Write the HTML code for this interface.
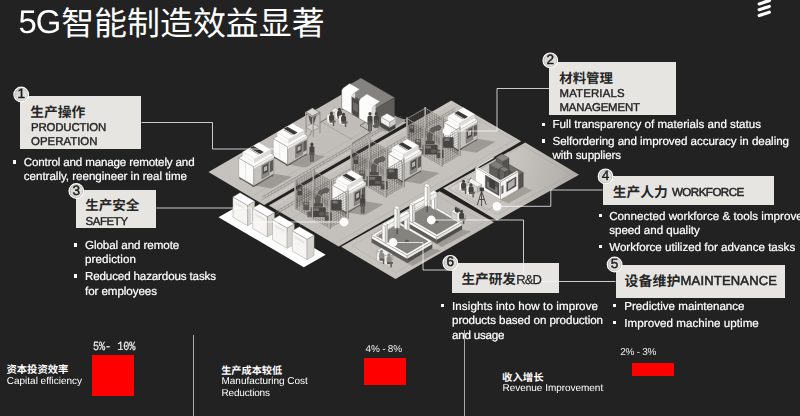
<!DOCTYPE html>
<html lang="zh"><head><meta charset="utf-8"><title>5G智能制造效益显著</title>
<style>
html,body{margin:0;padding:0;background:#222222;overflow:hidden;}
body{width:800px;height:416px;position:relative;overflow:hidden;font-family:"Liberation Sans",sans-serif;text-rendering:geometricPrecision;}
.t{position:absolute;white-space:pre;line-height:1;margin:0;}
.bx{position:absolute;background:#e7e5e1;}
.sq{position:absolute;width:3.2px;height:3.2px;background:#fff;}
.red{position:absolute;background:#ff0000;}
.vl{position:absolute;width:1px;background:#a9a9a9;}
svg{position:absolute;left:0;top:0;}
svg text{font-family:"Liberation Sans","Noto Sans CJK SC",sans-serif;}
</style></head><body>
<svg width="800" height="416" viewBox="0 0 800 416">
<defs><linearGradient id="f1" gradientUnits="userSpaceOnUse" x1="208" y1="0" x2="406" y2="0"><stop offset="0" stop-color="#c6c3be"/><stop offset="1" stop-color="#bebbb6"/></linearGradient><linearGradient id="f2" gradientUnits="userSpaceOnUse" x1="268" y1="0" x2="522" y2="0"><stop offset="0" stop-color="#c4c1bc"/><stop offset="1" stop-color="#c4c1bc"/></linearGradient><linearGradient id="f4" gradientUnits="userSpaceOnUse" x1="450" y1="160" x2="579" y2="185"><stop offset="0" stop-color="#d3d0cb"/><stop offset="0.5" stop-color="#c6c3be"/><stop offset="1" stop-color="#aeaba6"/></linearGradient><linearGradient id="f5" gradientUnits="userSpaceOnUse" x1="341" y1="0" x2="494" y2="0"><stop offset="0" stop-color="#c8c5c0"/><stop offset="1" stop-color="#bfbcb7"/></linearGradient></defs><polygon points="208.5,172.0 350.8,89.3 406.5,122.4 264.2,205.1" fill="url(#f1)"/><polygon points="268.8,205.6 451.3,100.4 521.2,141.3 338.7,246.5" fill="url(#f2)"/><polygon points="443.2,188.3 525.3,142.5 579.1,174.7 497.0,220.5" fill="url(#f4)"/><polygon points="341.2,246.8 439.5,191.2 494.0,222.3 395.5,279.0" fill="url(#f5)"/><line x1="270.5" y1="198.0" x2="402.8" y2="121.0" stroke="#dbd9d5" stroke-width="0.6"/><line x1="262.0" y1="199.7" x2="401.0" y2="119.0" stroke="#7d7b76" stroke-width="0.55"/><line x1="262.0" y1="197.0" x2="401.0" y2="116.3" stroke="#7d7b76" stroke-width="0.55"/><line x1="265.2" y1="197.8" x2="265.2" y2="195.1" stroke="#7d7b76" stroke-width="0.4"/><line x1="268.5" y1="195.9" x2="268.5" y2="193.2" stroke="#7d7b76" stroke-width="0.4"/><line x1="271.7" y1="194.1" x2="271.7" y2="191.4" stroke="#7d7b76" stroke-width="0.4"/><line x1="274.9" y1="192.2" x2="274.9" y2="189.5" stroke="#7d7b76" stroke-width="0.4"/><line x1="278.2" y1="190.3" x2="278.2" y2="187.6" stroke="#7d7b76" stroke-width="0.4"/><line x1="281.4" y1="188.4" x2="281.4" y2="185.7" stroke="#7d7b76" stroke-width="0.4"/><line x1="284.6" y1="186.6" x2="284.6" y2="183.9" stroke="#7d7b76" stroke-width="0.4"/><line x1="287.9" y1="184.7" x2="287.9" y2="182.0" stroke="#7d7b76" stroke-width="0.4"/><line x1="291.1" y1="182.8" x2="291.1" y2="180.1" stroke="#7d7b76" stroke-width="0.4"/><line x1="294.3" y1="180.9" x2="294.3" y2="178.2" stroke="#7d7b76" stroke-width="0.4"/><line x1="297.6" y1="179.1" x2="297.6" y2="176.4" stroke="#7d7b76" stroke-width="0.4"/><line x1="300.8" y1="177.2" x2="300.8" y2="174.5" stroke="#7d7b76" stroke-width="0.4"/><line x1="304.0" y1="175.3" x2="304.0" y2="172.6" stroke="#7d7b76" stroke-width="0.4"/><line x1="307.3" y1="173.4" x2="307.3" y2="170.7" stroke="#7d7b76" stroke-width="0.4"/><line x1="310.5" y1="171.5" x2="310.5" y2="168.8" stroke="#7d7b76" stroke-width="0.4"/><line x1="313.7" y1="169.7" x2="313.7" y2="167.0" stroke="#7d7b76" stroke-width="0.4"/><line x1="317.0" y1="167.8" x2="317.0" y2="165.1" stroke="#7d7b76" stroke-width="0.4"/><line x1="320.2" y1="165.9" x2="320.2" y2="163.2" stroke="#7d7b76" stroke-width="0.4"/><line x1="323.4" y1="164.0" x2="323.4" y2="161.3" stroke="#7d7b76" stroke-width="0.4"/><line x1="326.7" y1="162.2" x2="326.7" y2="159.5" stroke="#7d7b76" stroke-width="0.4"/><line x1="329.9" y1="160.3" x2="329.9" y2="157.6" stroke="#7d7b76" stroke-width="0.4"/><line x1="333.1" y1="158.4" x2="333.1" y2="155.7" stroke="#7d7b76" stroke-width="0.4"/><line x1="336.3" y1="156.5" x2="336.3" y2="153.8" stroke="#7d7b76" stroke-width="0.4"/><line x1="339.6" y1="154.7" x2="339.6" y2="152.0" stroke="#7d7b76" stroke-width="0.4"/><line x1="342.8" y1="152.8" x2="342.8" y2="150.1" stroke="#7d7b76" stroke-width="0.4"/><line x1="346.0" y1="150.9" x2="346.0" y2="148.2" stroke="#7d7b76" stroke-width="0.4"/><line x1="349.3" y1="149.0" x2="349.3" y2="146.3" stroke="#7d7b76" stroke-width="0.4"/><line x1="352.5" y1="147.2" x2="352.5" y2="144.5" stroke="#7d7b76" stroke-width="0.4"/><line x1="355.7" y1="145.3" x2="355.7" y2="142.6" stroke="#7d7b76" stroke-width="0.4"/><line x1="359.0" y1="143.4" x2="359.0" y2="140.7" stroke="#7d7b76" stroke-width="0.4"/><line x1="362.2" y1="141.5" x2="362.2" y2="138.8" stroke="#7d7b76" stroke-width="0.4"/><line x1="365.4" y1="139.6" x2="365.4" y2="136.9" stroke="#7d7b76" stroke-width="0.4"/><line x1="368.7" y1="137.8" x2="368.7" y2="135.1" stroke="#7d7b76" stroke-width="0.4"/><line x1="371.9" y1="135.9" x2="371.9" y2="133.2" stroke="#7d7b76" stroke-width="0.4"/><line x1="375.1" y1="134.0" x2="375.1" y2="131.3" stroke="#7d7b76" stroke-width="0.4"/><line x1="378.4" y1="132.1" x2="378.4" y2="129.4" stroke="#7d7b76" stroke-width="0.4"/><line x1="381.6" y1="130.3" x2="381.6" y2="127.6" stroke="#7d7b76" stroke-width="0.4"/><line x1="384.8" y1="128.4" x2="384.8" y2="125.7" stroke="#7d7b76" stroke-width="0.4"/><line x1="388.1" y1="126.5" x2="388.1" y2="123.8" stroke="#7d7b76" stroke-width="0.4"/><line x1="391.3" y1="124.6" x2="391.3" y2="121.9" stroke="#7d7b76" stroke-width="0.4"/><line x1="394.5" y1="122.8" x2="394.5" y2="120.1" stroke="#7d7b76" stroke-width="0.4"/><line x1="397.8" y1="120.9" x2="397.8" y2="118.2" stroke="#7d7b76" stroke-width="0.4"/><line x1="250.0" y1="197.5" x2="395.0" y2="113.2" stroke="#a9a7a2" stroke-width="0.4"/><line x1="272.0" y1="206.4" x2="452.0" y2="102.6" stroke="#dbd9d5" stroke-width="0.6"/><line x1="275.5" y1="211.9" x2="455.5" y2="107.8" stroke="#7d7b76" stroke-width="0.55"/><line x1="275.5" y1="214.5" x2="455.5" y2="110.4" stroke="#7d7b76" stroke-width="0.55"/><line x1="278.7" y1="210.0" x2="278.7" y2="212.6" stroke="#7d7b76" stroke-width="0.4"/><line x1="281.9" y1="208.2" x2="281.9" y2="210.8" stroke="#7d7b76" stroke-width="0.4"/><line x1="285.1" y1="206.3" x2="285.1" y2="208.9" stroke="#7d7b76" stroke-width="0.4"/><line x1="288.4" y1="204.5" x2="288.4" y2="207.1" stroke="#7d7b76" stroke-width="0.4"/><line x1="291.6" y1="202.6" x2="291.6" y2="205.2" stroke="#7d7b76" stroke-width="0.4"/><line x1="294.8" y1="200.7" x2="294.8" y2="203.3" stroke="#7d7b76" stroke-width="0.4"/><line x1="298.0" y1="198.9" x2="298.0" y2="201.5" stroke="#7d7b76" stroke-width="0.4"/><line x1="301.2" y1="197.0" x2="301.2" y2="199.6" stroke="#7d7b76" stroke-width="0.4"/><line x1="304.4" y1="195.2" x2="304.4" y2="197.8" stroke="#7d7b76" stroke-width="0.4"/><line x1="307.6" y1="193.3" x2="307.6" y2="195.9" stroke="#7d7b76" stroke-width="0.4"/><line x1="310.9" y1="191.5" x2="310.9" y2="194.1" stroke="#7d7b76" stroke-width="0.4"/><line x1="314.1" y1="189.6" x2="314.1" y2="192.2" stroke="#7d7b76" stroke-width="0.4"/><line x1="317.3" y1="187.7" x2="317.3" y2="190.3" stroke="#7d7b76" stroke-width="0.4"/><line x1="320.5" y1="185.9" x2="320.5" y2="188.5" stroke="#7d7b76" stroke-width="0.4"/><line x1="323.7" y1="184.0" x2="323.7" y2="186.6" stroke="#7d7b76" stroke-width="0.4"/><line x1="326.9" y1="182.2" x2="326.9" y2="184.8" stroke="#7d7b76" stroke-width="0.4"/><line x1="330.1" y1="180.3" x2="330.1" y2="182.9" stroke="#7d7b76" stroke-width="0.4"/><line x1="333.4" y1="178.4" x2="333.4" y2="181.0" stroke="#7d7b76" stroke-width="0.4"/><line x1="336.6" y1="176.6" x2="336.6" y2="179.2" stroke="#7d7b76" stroke-width="0.4"/><line x1="339.8" y1="174.7" x2="339.8" y2="177.3" stroke="#7d7b76" stroke-width="0.4"/><line x1="343.0" y1="172.9" x2="343.0" y2="175.5" stroke="#7d7b76" stroke-width="0.4"/><line x1="346.2" y1="171.0" x2="346.2" y2="173.6" stroke="#7d7b76" stroke-width="0.4"/><line x1="349.4" y1="169.1" x2="349.4" y2="171.7" stroke="#7d7b76" stroke-width="0.4"/><line x1="352.6" y1="167.3" x2="352.6" y2="169.9" stroke="#7d7b76" stroke-width="0.4"/><line x1="355.9" y1="165.4" x2="355.9" y2="168.0" stroke="#7d7b76" stroke-width="0.4"/><line x1="359.1" y1="163.6" x2="359.1" y2="166.2" stroke="#7d7b76" stroke-width="0.4"/><line x1="362.3" y1="161.7" x2="362.3" y2="164.3" stroke="#7d7b76" stroke-width="0.4"/><line x1="365.5" y1="159.8" x2="365.5" y2="162.4" stroke="#7d7b76" stroke-width="0.4"/><line x1="368.7" y1="158.0" x2="368.7" y2="160.6" stroke="#7d7b76" stroke-width="0.4"/><line x1="371.9" y1="156.1" x2="371.9" y2="158.7" stroke="#7d7b76" stroke-width="0.4"/><line x1="375.1" y1="154.3" x2="375.1" y2="156.9" stroke="#7d7b76" stroke-width="0.4"/><line x1="378.4" y1="152.4" x2="378.4" y2="155.0" stroke="#7d7b76" stroke-width="0.4"/><line x1="381.6" y1="150.6" x2="381.6" y2="153.2" stroke="#7d7b76" stroke-width="0.4"/><line x1="384.8" y1="148.7" x2="384.8" y2="151.3" stroke="#7d7b76" stroke-width="0.4"/><line x1="388.0" y1="146.8" x2="388.0" y2="149.4" stroke="#7d7b76" stroke-width="0.4"/><line x1="391.2" y1="145.0" x2="391.2" y2="147.6" stroke="#7d7b76" stroke-width="0.4"/><line x1="394.4" y1="143.1" x2="394.4" y2="145.7" stroke="#7d7b76" stroke-width="0.4"/><line x1="397.6" y1="141.3" x2="397.6" y2="143.9" stroke="#7d7b76" stroke-width="0.4"/><line x1="400.9" y1="139.4" x2="400.9" y2="142.0" stroke="#7d7b76" stroke-width="0.4"/><line x1="404.1" y1="137.5" x2="404.1" y2="140.1" stroke="#7d7b76" stroke-width="0.4"/><line x1="407.3" y1="135.7" x2="407.3" y2="138.3" stroke="#7d7b76" stroke-width="0.4"/><line x1="410.5" y1="133.8" x2="410.5" y2="136.4" stroke="#7d7b76" stroke-width="0.4"/><line x1="413.7" y1="132.0" x2="413.7" y2="134.6" stroke="#7d7b76" stroke-width="0.4"/><line x1="416.9" y1="130.1" x2="416.9" y2="132.7" stroke="#7d7b76" stroke-width="0.4"/><line x1="420.1" y1="128.2" x2="420.1" y2="130.8" stroke="#7d7b76" stroke-width="0.4"/><line x1="423.4" y1="126.4" x2="423.4" y2="129.0" stroke="#7d7b76" stroke-width="0.4"/><line x1="426.6" y1="124.5" x2="426.6" y2="127.1" stroke="#7d7b76" stroke-width="0.4"/><line x1="429.8" y1="122.7" x2="429.8" y2="125.3" stroke="#7d7b76" stroke-width="0.4"/><line x1="433.0" y1="120.8" x2="433.0" y2="123.4" stroke="#7d7b76" stroke-width="0.4"/><line x1="436.2" y1="119.0" x2="436.2" y2="121.6" stroke="#7d7b76" stroke-width="0.4"/><line x1="439.4" y1="117.1" x2="439.4" y2="119.7" stroke="#7d7b76" stroke-width="0.4"/><line x1="442.6" y1="115.2" x2="442.6" y2="117.8" stroke="#7d7b76" stroke-width="0.4"/><line x1="445.9" y1="113.4" x2="445.9" y2="116.0" stroke="#7d7b76" stroke-width="0.4"/><line x1="449.1" y1="111.5" x2="449.1" y2="114.1" stroke="#7d7b76" stroke-width="0.4"/><line x1="452.3" y1="109.7" x2="452.3" y2="112.3" stroke="#7d7b76" stroke-width="0.4"/><line x1="291.0" y1="218.6" x2="470.0" y2="115.3" stroke="#a9a7a2" stroke-width="0.4"/><polyline points="320.0,122.5 344.0,108.5 366.5,121.5 360.0,125.5 371.0,132.0 352.0,143.5" fill="none" stroke="#66645f" stroke-width="0.9"/><polyline points="321.0,121.5 352.0,139.5" fill="none" stroke="#8d8b86" stroke-width="0.5"/><polyline points="455.0,183.0 523.0,145.5 571.0,174.5 497.5,214.5 455.0,189.5" fill="none" stroke="#a09e99" stroke-width="0.4"/><polyline points="448.0,188.3 466.0,178.0 504.0,200.0 487.0,210.5 448.0,188.3" fill="none" stroke="#8f8d88" stroke-width="0.45"/><polyline points="300.0,225.0 480.0,121.0 515.0,141.0" fill="none" stroke="#a9a7a2" stroke-width="0.4"/><polyline points="334.0,244.0 517.0,138.5" fill="none" stroke="#a9a7a2" stroke-width="0.4"/><polyline points="352.0,245.5 438.5,196.0 484.0,222.0 396.0,272.5 352.0,245.5" fill="none" stroke="#a9a7a2" stroke-width="0.4"/><polygon points="218.5,217.2 240.4,204.7 325.7,254.7 303.8,267.2" fill="#ffffff"/><polygon points="232.9,217.2 247.6,225.7 247.6,205.4 232.9,196.9" fill="#f6f5f3" stroke="#8d8b86" stroke-width="0.4" stroke-linejoin="round"/><polygon points="247.6,225.7 254.7,221.6 254.7,201.3 247.6,205.4" fill="#d6d4d0" stroke="#8d8b86" stroke-width="0.4" stroke-linejoin="round"/><polygon points="232.9,196.9 247.6,205.4 254.7,201.3 240.0,192.8" fill="#ffffff" stroke="#8d8b86" stroke-width="0.4" stroke-linejoin="round"/><line x1="235.5" y1="202.7" x2="245.0" y2="208.2" stroke="#b5b3ae" stroke-width="0.4"/><line x1="235.5" y1="204.2" x2="245.0" y2="209.7" stroke="#d0cec9" stroke-width="0.4"/><polygon points="252.7,228.5 267.4,237.0 267.4,216.7 252.7,208.2" fill="#f6f5f3" stroke="#8d8b86" stroke-width="0.4" stroke-linejoin="round"/><polygon points="267.4,237.0 274.5,232.9 274.5,212.6 267.4,216.7" fill="#d6d4d0" stroke="#8d8b86" stroke-width="0.4" stroke-linejoin="round"/><polygon points="252.7,208.2 267.4,216.7 274.5,212.6 259.8,204.1" fill="#ffffff" stroke="#8d8b86" stroke-width="0.4" stroke-linejoin="round"/><line x1="255.3" y1="214.0" x2="264.8" y2="219.5" stroke="#b5b3ae" stroke-width="0.4"/><line x1="255.3" y1="215.5" x2="264.8" y2="221.0" stroke="#d0cec9" stroke-width="0.4"/><polygon points="272.5,239.8 287.2,248.3 287.2,228.0 272.5,219.5" fill="#f6f5f3" stroke="#8d8b86" stroke-width="0.4" stroke-linejoin="round"/><polygon points="287.2,248.3 294.3,244.2 294.3,223.9 287.2,228.0" fill="#d6d4d0" stroke="#8d8b86" stroke-width="0.4" stroke-linejoin="round"/><polygon points="272.5,219.5 287.2,228.0 294.3,223.9 279.6,215.4" fill="#ffffff" stroke="#8d8b86" stroke-width="0.4" stroke-linejoin="round"/><line x1="275.1" y1="225.3" x2="284.6" y2="230.8" stroke="#b5b3ae" stroke-width="0.4"/><line x1="275.1" y1="226.8" x2="284.6" y2="232.3" stroke="#d0cec9" stroke-width="0.4"/><polygon points="292.3,251.1 307.0,259.6 307.0,239.3 292.3,230.8" fill="#f6f5f3" stroke="#8d8b86" stroke-width="0.4" stroke-linejoin="round"/><polygon points="307.0,259.6 314.1,255.5 314.1,235.2 307.0,239.3" fill="#d6d4d0" stroke="#8d8b86" stroke-width="0.4" stroke-linejoin="round"/><polygon points="292.3,230.8 307.0,239.3 314.1,235.2 299.4,226.7" fill="#ffffff" stroke="#8d8b86" stroke-width="0.4" stroke-linejoin="round"/><line x1="294.9" y1="236.6" x2="304.4" y2="242.1" stroke="#b5b3ae" stroke-width="0.4"/><line x1="294.9" y1="238.1" x2="304.4" y2="243.6" stroke="#d0cec9" stroke-width="0.4"/><polygon points="375.6,127.8 385.6,131.8 406.6,119.8 394.6,116.8" fill="#9d9a95"/><polygon points="341.8,108.3 375.6,127.8 375.6,108.5 341.8,89.0" fill="#5b5955" stroke="#403f3d" stroke-width="0.4" stroke-linejoin="round"/><polygon points="375.6,127.8 394.6,116.8 394.6,97.5 375.6,108.5" fill="#5f5d59" stroke="#403f3d" stroke-width="0.4" stroke-linejoin="round"/><polygon points="341.8,89.0 375.6,108.5 394.6,97.5 360.9,78.0" fill="#85837f" stroke="#403f3d" stroke-width="0.4" stroke-linejoin="round"/><polygon points="341.8,108.3 351.8,114.0 351.8,96.2 353.3,93.8 359.6,89.2 349.6,83.5 343.3,88.0 341.8,90.5" fill="#fcfcfb" stroke="#8d8b86" stroke-width="0.35" stroke-linejoin="round"/><polygon points="351.8,114.0 355.2,112.0 355.2,92.8 351.8,95.2" fill="#dddbd7"/><polygon points="351.8,113.0 359.1,117.3 359.1,101.0 351.8,96.8" fill="#4a4947"/><polygon points="353.1,109.8 357.8,112.5 357.8,104.5 353.1,101.8" fill="#6d6b67"/><polygon points="359.1,118.3 372.1,125.8 372.1,108.5 373.6,106.0 379.9,101.5 366.9,94.0 360.6,98.5 359.1,101.0" fill="#fcfcfb" stroke="#8d8b86" stroke-width="0.35" stroke-linejoin="round"/><polygon points="372.1,125.8 375.6,123.8 375.6,105.0 372.1,107.5" fill="#dddbd7"/><polygon points="380.5,126.5 389.2,131.5 389.2,127.0 380.5,122.0" fill="#4a4947" stroke="#333" stroke-width="0.3" stroke-linejoin="round"/><polygon points="389.2,131.5 395.2,128.0 395.2,123.5 389.2,127.0" fill="#403f3d" stroke="#333" stroke-width="0.3" stroke-linejoin="round"/><polygon points="380.5,122.0 389.2,127.0 395.2,123.5 386.6,118.5" fill="#5d5b57" stroke="#333" stroke-width="0.3" stroke-linejoin="round"/><polygon points="381.0,122.5 389.7,127.5 389.7,122.0 381.0,117.0" fill="#f1f0ee" stroke="#8d8b86" stroke-width="0.35" stroke-linejoin="round"/><polygon points="389.7,127.5 395.7,124.0 395.7,118.5 389.7,122.0" fill="#cfcdc9" stroke="#8d8b86" stroke-width="0.35" stroke-linejoin="round"/><polygon points="381.0,117.0 389.7,122.0 395.7,118.5 387.1,113.5" fill="#fafaf9" stroke="#8d8b86" stroke-width="0.35" stroke-linejoin="round"/><line x1="312.4" y1="128.6" x2="312.4" y2="108.1" stroke="#9b9994" stroke-width="1.0"/><line x1="312.9" y1="128.6" x2="312.9" y2="108.1" stroke="#5d5b57" stroke-width="0.35"/><polygon points="305.6,127.0 312.7,131.1 319.5,127.2 312.4,123.1" fill="#d3d1cd" stroke="#5d5b57" stroke-width="0.35" stroke-linejoin="round"/><polygon points="308.2,113.0 312.7,115.6 316.9,113.2 314.3,122.2 311.4,124.3 309.9,121.0" fill="#55534f" stroke="#3a3937" stroke-width="0.3" stroke-linejoin="round"/><line x1="305.6" y1="132.9" x2="305.6" y2="112.0" stroke="#b9b7b2" stroke-width="1.2"/><line x1="306.2" y1="132.9" x2="306.2" y2="112.0" stroke="#5d5b57" stroke-width="0.4"/><line x1="319.5" y1="133.1" x2="319.5" y2="112.2" stroke="#b9b7b2" stroke-width="1.2"/><line x1="320.1" y1="133.1" x2="320.1" y2="112.2" stroke="#5d5b57" stroke-width="0.4"/><line x1="312.7" y1="137.0" x2="312.7" y2="116.1" stroke="#b9b7b2" stroke-width="1.2"/><line x1="313.4" y1="137.0" x2="313.4" y2="116.1" stroke="#5d5b57" stroke-width="0.4"/><polygon points="305.6,112.0 312.7,116.1 319.5,112.2 312.4,108.1" fill="#d9d7d3" stroke="#5d5b57" stroke-width="0.5" stroke-linejoin="round"/><polygon points="305.6,112.0 312.7,116.1 312.7,117.7 305.6,113.6" fill="#c4c2bd" stroke="#5d5b57" stroke-width="0.3" stroke-linejoin="round"/><polygon points="312.7,116.1 319.5,112.2 319.5,113.8 312.7,117.7" fill="#a9a7a2" stroke="#5d5b57" stroke-width="0.3" stroke-linejoin="round"/><path d="M311.7 130.6q-1 6-6 9l-6 4" stroke="#8d8b86" stroke-width="0.9" fill="none"/><polygon points="331.0,115.5 340.5,121.0 340.5,116.0 331.0,110.5" fill="#cfcdc9" stroke="#77756f" stroke-width="0.3" stroke-linejoin="round"/><polygon points="340.5,121.0 344.9,118.5 344.9,113.5 340.5,116.0" fill="#b9b7b2" stroke="#77756f" stroke-width="0.3" stroke-linejoin="round"/><polygon points="331.0,110.5 340.5,116.0 344.9,113.5 335.3,108.0" fill="#f2f1ef" stroke="#77756f" stroke-width="0.3" stroke-linejoin="round"/><path d="M326.9 115.0l3.4-1.6 0 7.2 4.2 2 -3.4 1.8 -4.2-2.2z" fill="#f1f0ee" stroke="#8d8b86" stroke-width="0.3"/><ellipse cx="331.5" cy="113.5" rx="1.6" ry="1.7" fill="#454441"/><rect x="329.1" y="115.1" width="5" height="6" rx="1.4" fill="#454441"/><path d="M329.5 120.5h6v1.8h-1.2v3.8h-1.4v-3.4h-3.4z" fill="#5d5b57"/><path d="M334.9 111.0l3.4-1.6 0 7.2 4.2 2 -3.4 1.8 -4.2-2.2z" fill="#f1f0ee" stroke="#8d8b86" stroke-width="0.3"/><ellipse cx="339.5" cy="109.5" rx="1.6" ry="1.7" fill="#454441"/><rect x="337.1" y="111.1" width="5" height="6" rx="1.4" fill="#454441"/><path d="M337.5 116.5h6v1.8h-1.2v3.8h-1.4v-3.4h-3.4z" fill="#5d5b57"/><path d="M338.9 116.0l3.4-1.6 0 7.2 4.2 2 -3.4 1.8 -4.2-2.2z" fill="#f1f0ee" stroke="#8d8b86" stroke-width="0.3"/><ellipse cx="343.5" cy="114.5" rx="1.6" ry="1.7" fill="#454441"/><rect x="341.1" y="116.1" width="5" height="6" rx="1.4" fill="#454441"/><path d="M341.5 121.5h6v1.8h-1.2v3.8h-1.4v-3.4h-3.4z" fill="#5d5b57"/><ellipse cx="370.0" cy="113.8" rx="1.6" ry="1.8" fill="#454441"/><path d="M367.5 117.0q0-1.6 2.5-1.6t2.5 1.6v7.4h-5z" fill="#454441"/><rect x="368.0" y="121.3" width="1.8" height="10.1" fill="#5d5b57"/><rect x="370.2" y="121.3" width="1.8" height="9.7" fill="#5d5b57"/><ellipse cx="376.3" cy="113.8" rx="1.6" ry="1.8" fill="#454441"/><path d="M373.8 117.0q0-1.6 2.5-1.6t2.5 1.6v6.1h-5z" fill="#454441"/><rect x="374.3" y="119.7" width="1.8" height="8.3" fill="#5d5b57"/><rect x="376.5" y="119.7" width="1.8" height="8.0" fill="#5d5b57"/><polygon points="287.7,164.4 305.7,167.4 325.2,156.2 307.2,153.2" fill="#9d9a95"/><line x1="274.9" y1="157.0" x2="274.9" y2="158.8" stroke="#55534f" stroke-width="0.8"/><line x1="286.5" y1="163.8" x2="286.5" y2="165.6" stroke="#55534f" stroke-width="0.8"/><line x1="290.3" y1="162.9" x2="290.3" y2="164.7" stroke="#55534f" stroke-width="0.8"/><line x1="305.7" y1="154.0" x2="305.7" y2="155.8" stroke="#55534f" stroke-width="0.8"/><polyline points="273.7,156.6 287.7,165.2 306.7,153.8" fill="none" stroke="#55534f" stroke-width="1.3"/><polygon points="273.2,156.0 287.7,164.4 287.7,146.9 273.2,138.5" fill="#fbfbfa" stroke="#7d7b76" stroke-width="0.4" stroke-linejoin="round"/><polygon points="287.7,164.4 307.2,153.2 307.2,135.7 287.7,146.9" fill="#c4c2bd" stroke="#7d7b76" stroke-width="0.4" stroke-linejoin="round"/><polygon points="273.2,138.5 287.7,146.9 307.2,135.7 292.7,127.2" fill="#fdfdfc" stroke="#7d7b76" stroke-width="0.4" stroke-linejoin="round"/><polygon points="277.1,136.2 288.7,143.0 288.7,139.2 277.1,132.4" fill="#fdfdfc" stroke="#c4c2bd" stroke-width="0.3" stroke-linejoin="round"/><polygon points="288.7,143.0 304.3,134.0 304.3,130.2 288.7,139.2" fill="#dedcd8" stroke="#c4c2bd" stroke-width="0.3" stroke-linejoin="round"/><polygon points="277.1,132.4 288.7,139.2 304.3,130.2 292.7,123.5" fill="#fdfdfc" stroke="#c4c2bd" stroke-width="0.3" stroke-linejoin="round"/><polygon points="287.7,146.9 307.2,135.7 307.2,137.8 287.7,149.1" fill="#eceae7"/><polygon points="295.5,158.2 302.6,154.1 302.6,141.8 295.5,145.9" fill="#8a8884" stroke="#4a4947" stroke-width="0.3" stroke-linejoin="round"/><polygon points="296.5,154.1 301.6,151.2 301.6,143.5 296.5,146.4" fill="#4a4947"/><polygon points="297.5,151.4 300.6,149.6 300.6,145.4 297.5,147.2" fill="#b5b3ae"/><polygon points="303.3,151.9 306.7,150.0 306.7,139.8 303.3,141.8" fill="#5d5b58"/><line x1="279.7" y1="158.8" x2="279.7" y2="143.3" stroke="#d0cec9" stroke-width="0.4"/><polygon points="283.8,128.8 287.4,126.7 297.6,132.6 294.0,134.7" fill="#3a3937"/><polygon points="283.3,130.1 284.3,129.5 293.3,134.7 292.3,135.3" fill="#a8a6a1"/><ellipse cx="311.9" cy="144.4" rx="1.6" ry="1.8" fill="#454441"/><path d="M309.4 147.6q0-1.6 2.5-1.6t2.5 1.6v7.4h-5z" fill="#454441"/><rect x="309.9" y="151.9" width="1.8" height="10.1" fill="#5d5b57"/><rect x="312.1" y="151.9" width="1.8" height="9.7" fill="#5d5b57"/><polygon points="253.8,185.5 271.8,188.5 291.9,176.8 273.9,173.8" fill="#9d9a95"/><line x1="240.4" y1="177.8" x2="240.4" y2="179.6" stroke="#55534f" stroke-width="0.8"/><line x1="252.6" y1="184.9" x2="252.6" y2="186.7" stroke="#55534f" stroke-width="0.8"/><line x1="256.4" y1="184.0" x2="256.4" y2="185.8" stroke="#55534f" stroke-width="0.8"/><line x1="272.4" y1="174.7" x2="272.4" y2="176.5" stroke="#55534f" stroke-width="0.8"/><polyline points="239.2,177.4 253.8,186.3 273.4,174.4" fill="none" stroke="#55534f" stroke-width="1.3"/><polygon points="238.7,176.8 253.8,185.5 253.8,166.7 238.7,158.0" fill="#fbfbfa" stroke="#7d7b76" stroke-width="0.4" stroke-linejoin="round"/><polygon points="253.8,185.5 273.9,173.8 273.9,155.0 253.8,166.7" fill="#c4c2bd" stroke="#7d7b76" stroke-width="0.4" stroke-linejoin="round"/><polygon points="238.7,158.0 253.8,166.7 273.9,155.0 258.9,146.3" fill="#fdfdfc" stroke="#7d7b76" stroke-width="0.4" stroke-linejoin="round"/><polygon points="242.7,155.7 254.8,162.6 254.8,158.8 242.7,151.9" fill="#fdfdfc" stroke="#c4c2bd" stroke-width="0.3" stroke-linejoin="round"/><polygon points="254.8,162.6 270.9,153.3 270.9,149.5 254.8,158.8" fill="#dedcd8" stroke="#c4c2bd" stroke-width="0.3" stroke-linejoin="round"/><polygon points="242.7,151.9 254.8,158.8 270.9,149.5 258.9,142.5" fill="#fdfdfc" stroke="#c4c2bd" stroke-width="0.3" stroke-linejoin="round"/><polygon points="253.8,166.7 273.9,155.0 273.9,157.2 253.8,168.9" fill="#eceae7"/><polygon points="261.8,179.0 269.1,174.8 269.1,161.6 261.8,165.8" fill="#8a8884" stroke="#4a4947" stroke-width="0.3" stroke-linejoin="round"/><polygon points="262.8,174.6 268.1,171.6 268.1,163.3 262.8,166.3" fill="#4a4947"/><polygon points="263.9,171.8 267.1,169.9 267.1,165.4 263.9,167.3" fill="#b5b3ae"/><polygon points="269.9,172.4 273.3,170.4 273.3,159.5 269.9,161.5" fill="#5d5b58"/><line x1="245.5" y1="179.7" x2="245.5" y2="162.9" stroke="#d0cec9" stroke-width="0.4"/><polygon points="249.7,148.0 253.3,145.9 263.8,152.0 260.2,154.1" fill="#3a3937"/><polygon points="249.1,149.3 250.2,148.7 259.5,154.1 258.5,154.7" fill="#a8a6a1"/><polygon points="407.1,146.2 425.3,135.7 425.3,108.2 407.1,118.7" fill="#5f5d59" fill-opacity="0.05"/><path d="M409.4 144.9v-27.5M411.6 143.6v-27.5M413.9 142.3v-27.5M416.2 140.9v-27.5M418.5 139.6v-27.5M420.7 138.3v-27.5M423.0 137.0v-27.5M407.1 143.7L425.3 133.2M407.1 141.2L425.3 130.7M407.1 138.7L425.3 128.2M407.1 136.2L425.3 125.7M407.1 133.7L425.3 123.2M407.1 131.2L425.3 120.7M407.1 128.7L425.3 118.2M407.1 126.2L425.3 115.7M407.1 123.7L425.3 113.2M407.1 121.2L425.3 110.7" stroke="#5b5955" stroke-width="0.42" stroke-opacity="0.85" fill="none"/><line x1="407.1" y1="118.7" x2="425.3" y2="108.2" stroke="#9b9994" stroke-width="0.9"/><line x1="407.1" y1="145.8" x2="425.3" y2="135.3" stroke="#8d8b86" stroke-width="0.6"/><line x1="407.1" y1="146.8" x2="407.1" y2="117.5" stroke="#b9b7b2" stroke-width="1.3"/><line x1="407.9" y1="146.8" x2="407.9" y2="117.5" stroke="#55534f" stroke-width="0.35"/><line x1="425.3" y1="136.3" x2="425.3" y2="107.0" stroke="#b9b7b2" stroke-width="1.3"/><line x1="426.0" y1="136.3" x2="426.0" y2="107.0" stroke="#55534f" stroke-width="0.35"/><polygon points="425.3,135.7 459.5,155.4 459.5,127.9 425.3,108.2" fill="#5f5d59" fill-opacity="0.05"/><path d="M427.6 137.0v-27.5M429.8 138.3v-27.5M432.1 139.6v-27.5M434.4 141.0v-27.5M436.7 142.3v-27.5M439.0 143.6v-27.5M441.3 144.9v-27.5M443.5 146.2v-27.5M445.8 147.5v-27.5M448.1 148.9v-27.5M450.4 150.2v-27.5M452.7 151.5v-27.5M454.9 152.8v-27.5M457.2 154.1v-27.5M425.3 133.2L459.5 152.9M425.3 130.7L459.5 150.4M425.3 128.2L459.5 147.9M425.3 125.7L459.5 145.4M425.3 123.2L459.5 142.9M425.3 120.7L459.5 140.4M425.3 118.2L459.5 137.9M425.3 115.7L459.5 135.4M425.3 113.2L459.5 132.9M425.3 110.7L459.5 130.4" stroke="#5b5955" stroke-width="0.42" stroke-opacity="0.85" fill="none"/><line x1="425.3" y1="108.2" x2="459.5" y2="127.9" stroke="#9b9994" stroke-width="0.9"/><line x1="425.3" y1="135.3" x2="459.5" y2="155.0" stroke="#8d8b86" stroke-width="0.6"/><line x1="425.3" y1="136.3" x2="425.3" y2="107.0" stroke="#b9b7b2" stroke-width="1.3"/><line x1="426.0" y1="136.3" x2="426.0" y2="107.0" stroke="#55534f" stroke-width="0.35"/><line x1="442.4" y1="146.2" x2="442.4" y2="116.9" stroke="#b9b7b2" stroke-width="1.3"/><line x1="443.1" y1="146.2" x2="443.1" y2="116.9" stroke="#55534f" stroke-width="0.35"/><line x1="459.5" y1="156.0" x2="459.5" y2="126.7" stroke="#b9b7b2" stroke-width="1.3"/><line x1="460.2" y1="156.0" x2="460.2" y2="126.7" stroke="#55534f" stroke-width="0.35"/><polygon points="458.4,149.7 476.4,152.7 495.4,141.7 477.4,138.7" fill="#9d9a95"/><line x1="445.8" y1="142.4" x2="445.8" y2="144.2" stroke="#55534f" stroke-width="0.8"/><line x1="457.2" y1="149.1" x2="457.2" y2="150.9" stroke="#55534f" stroke-width="0.8"/><line x1="461.0" y1="148.2" x2="461.0" y2="150.0" stroke="#55534f" stroke-width="0.8"/><line x1="475.9" y1="139.5" x2="475.9" y2="141.3" stroke="#55534f" stroke-width="0.8"/><polyline points="444.6,142.0 458.4,150.5 476.9,139.3" fill="none" stroke="#55534f" stroke-width="1.3"/><polygon points="444.1,141.4 458.4,149.7 458.4,130.7 444.1,122.4" fill="#fbfbfa" stroke="#7d7b76" stroke-width="0.4" stroke-linejoin="round"/><polygon points="458.4,149.7 477.4,138.7 477.4,119.7 458.4,130.7" fill="#c4c2bd" stroke="#7d7b76" stroke-width="0.4" stroke-linejoin="round"/><polygon points="444.1,122.4 458.4,130.7 477.4,119.7 463.2,111.4" fill="#fdfdfc" stroke="#7d7b76" stroke-width="0.4" stroke-linejoin="round"/><polygon points="447.9,120.2 459.3,126.8 459.3,123.0 447.9,116.4" fill="#fdfdfc" stroke="#c4c2bd" stroke-width="0.3" stroke-linejoin="round"/><polygon points="459.3,126.8 474.6,118.0 474.6,114.2 459.3,123.0" fill="#dedcd8" stroke="#c4c2bd" stroke-width="0.3" stroke-linejoin="round"/><polygon points="447.9,116.4 459.3,123.0 474.6,114.2 463.2,107.6" fill="#fdfdfc" stroke="#c4c2bd" stroke-width="0.3" stroke-linejoin="round"/><polygon points="458.4,130.7 477.4,119.7 477.4,121.9 458.4,132.9" fill="#eceae7"/><polygon points="466.0,143.4 472.9,139.4 472.9,126.1 466.0,130.1" fill="#8a8884" stroke="#4a4947" stroke-width="0.3" stroke-linejoin="round"/><polygon points="467.0,139.1 471.9,136.2 471.9,127.8 467.0,130.7" fill="#4a4947"/><polygon points="467.9,136.2 471.0,134.5 471.0,129.9 467.9,131.7" fill="#b5b3ae"/><polygon points="473.6,137.1 476.9,135.2 476.9,124.2 473.6,126.1" fill="#5d5b58"/><line x1="450.5" y1="144.2" x2="450.5" y2="127.2" stroke="#d0cec9" stroke-width="0.4"/><polygon points="454.4,113.0 458.1,110.9 468.1,116.7 464.4,118.8" fill="#3a3937"/><polygon points="453.9,114.3 455.0,113.7 463.8,118.8 462.8,119.4" fill="#a8a6a1"/><rect x="409.5" y="125.2" width="4.6" height="7.4" rx="0.7" fill="#454441"/><rect x="410.3" y="126.0" width="3.0" height="2.4" rx="0.3" fill="#8e8c87"/><path d="M427.1 141.7v-6l4-7.5 7.5-3.2 2.6 2-1.2 2.8-5.6 1.2-2.6 5.2v5.5z" fill="#605e5a" stroke="#3f3e3c" stroke-width="0.45"/><rect x="425.6" y="140.7" width="9.0" height="3.5" rx="0.7" fill="#4a4947"/><rect x="415.1" y="139.2" width="6.0" height="8.5" rx="0.7" fill="#5d5b57"/><rect x="416.1" y="140.0" width="4.0" height="2.2" rx="0.3" fill="#9b9994"/><rect x="422.6" y="144.7" width="15.0" height="9.7" rx="0.7" fill="#3f3e3c"/><rect x="424.1" y="145.8" width="7.0" height="2.6" rx="0.3" fill="#807e7a"/><rect x="431.1" y="149.6" width="5.0" height="3.2" rx="0.3" fill="#66645f"/><rect x="443.1" y="137.2" width="10.5" height="10.6" rx="0.7" fill="#403f3d"/><rect x="444.5" y="138.2" width="5.0" height="2.8" rx="0.3" fill="#8a8884"/><rect x="436.6" y="149.7" width="7.0" height="8.5" rx="0.7" fill="#4f4e4b"/><rect x="437.7" y="150.8" width="3.9" height="2.2" rx="0.3" fill="#8a8884"/><rect x="419.1" y="149.2" width="4.0" height="5.5" rx="0.7" fill="#66645f"/><polygon points="407.1,146.2 441.3,165.9 441.3,138.4 407.1,118.7" fill="#5f5d59" fill-opacity="0.04"/><path d="M409.4 147.5v-27.5M411.7 148.8v-27.5M413.9 150.1v-27.5M416.2 151.5v-27.5M418.5 152.8v-27.5M420.8 154.1v-27.5M423.1 155.4v-27.5M425.3 156.7v-27.5M427.6 158.0v-27.5M429.9 159.4v-27.5M432.2 160.7v-27.5M434.5 162.0v-27.5M436.7 163.3v-27.5M439.0 164.6v-27.5M407.1 143.7L441.3 163.4M407.1 141.2L441.3 160.9M407.1 138.7L441.3 158.4M407.1 136.2L441.3 155.9M407.1 133.7L441.3 153.4M407.1 131.2L441.3 150.9M407.1 128.7L441.3 148.4M407.1 126.2L441.3 145.9M407.1 123.7L441.3 143.4M407.1 121.2L441.3 140.9" stroke="#5b5955" stroke-width="0.42" stroke-opacity="0.85" fill="none"/><line x1="407.1" y1="118.7" x2="441.3" y2="138.4" stroke="#9b9994" stroke-width="0.9"/><line x1="407.1" y1="145.8" x2="441.3" y2="165.5" stroke="#8d8b86" stroke-width="0.6"/><line x1="407.1" y1="146.8" x2="407.1" y2="117.5" stroke="#b9b7b2" stroke-width="1.3"/><line x1="407.9" y1="146.8" x2="407.9" y2="117.5" stroke="#55534f" stroke-width="0.35"/><line x1="424.2" y1="156.7" x2="424.2" y2="127.4" stroke="#b9b7b2" stroke-width="1.3"/><line x1="425.0" y1="156.7" x2="425.0" y2="127.4" stroke="#55534f" stroke-width="0.35"/><line x1="441.3" y1="166.5" x2="441.3" y2="137.2" stroke="#b9b7b2" stroke-width="1.3"/><line x1="442.1" y1="166.5" x2="442.1" y2="137.2" stroke="#55534f" stroke-width="0.35"/><polygon points="441.3,165.9 459.5,155.4 459.5,127.9 441.3,138.4" fill="#5f5d59" fill-opacity="0.04"/><path d="M443.6 164.6v-27.5M445.9 163.3v-27.5M448.1 162.0v-27.5M450.4 160.7v-27.5M452.7 159.4v-27.5M454.9 158.1v-27.5M457.2 156.8v-27.5M441.3 163.4L459.5 152.9M441.3 160.9L459.5 150.4M441.3 158.4L459.5 147.9M441.3 155.9L459.5 145.4M441.3 153.4L459.5 142.9M441.3 150.9L459.5 140.4M441.3 148.4L459.5 137.9M441.3 145.9L459.5 135.4M441.3 143.4L459.5 132.9M441.3 140.9L459.5 130.4" stroke="#5b5955" stroke-width="0.42" stroke-opacity="0.85" fill="none"/><line x1="441.3" y1="138.4" x2="459.5" y2="127.9" stroke="#9b9994" stroke-width="0.9"/><line x1="441.3" y1="165.5" x2="459.5" y2="155.0" stroke="#8d8b86" stroke-width="0.6"/><line x1="441.3" y1="166.5" x2="441.3" y2="137.2" stroke="#b9b7b2" stroke-width="1.3"/><line x1="442.1" y1="166.5" x2="442.1" y2="137.2" stroke="#55534f" stroke-width="0.35"/><line x1="459.5" y1="156.0" x2="459.5" y2="126.7" stroke="#b9b7b2" stroke-width="1.3"/><line x1="460.2" y1="156.0" x2="460.2" y2="126.7" stroke="#55534f" stroke-width="0.35"/><polygon points="351.2,177.5 369.4,167.0 369.4,139.5 351.2,150.0" fill="#5f5d59" fill-opacity="0.05"/><path d="M353.5 176.2v-27.5M355.7 174.9v-27.5M358.0 173.6v-27.5M360.3 172.2v-27.5M362.6 170.9v-27.5M364.8 169.6v-27.5M367.1 168.3v-27.5M351.2 175.0L369.4 164.5M351.2 172.5L369.4 162.0M351.2 170.0L369.4 159.5M351.2 167.5L369.4 157.0M351.2 165.0L369.4 154.5M351.2 162.5L369.4 152.0M351.2 160.0L369.4 149.5M351.2 157.5L369.4 147.0M351.2 155.0L369.4 144.5M351.2 152.5L369.4 142.0" stroke="#5b5955" stroke-width="0.42" stroke-opacity="0.85" fill="none"/><line x1="351.2" y1="150.0" x2="369.4" y2="139.5" stroke="#9b9994" stroke-width="0.9"/><line x1="351.2" y1="177.1" x2="369.4" y2="166.6" stroke="#8d8b86" stroke-width="0.6"/><line x1="351.2" y1="178.1" x2="351.2" y2="148.8" stroke="#b9b7b2" stroke-width="1.3"/><line x1="351.9" y1="178.1" x2="351.9" y2="148.8" stroke="#55534f" stroke-width="0.35"/><line x1="369.4" y1="167.6" x2="369.4" y2="138.3" stroke="#b9b7b2" stroke-width="1.3"/><line x1="370.1" y1="167.6" x2="370.1" y2="138.3" stroke="#55534f" stroke-width="0.35"/><polygon points="369.4,167.0 403.6,186.8 403.6,159.2 369.4,139.5" fill="#5f5d59" fill-opacity="0.05"/><path d="M371.7 168.3v-27.5M373.9 169.6v-27.5M376.2 170.9v-27.5M378.5 172.3v-27.5M380.8 173.6v-27.5M383.1 174.9v-27.5M385.4 176.2v-27.5M387.6 177.5v-27.5M389.9 178.8v-27.5M392.2 180.2v-27.5M394.5 181.5v-27.5M396.8 182.8v-27.5M399.0 184.1v-27.5M401.3 185.4v-27.5M369.4 164.5L403.6 184.2M369.4 162.0L403.6 181.8M369.4 159.5L403.6 179.2M369.4 157.0L403.6 176.8M369.4 154.5L403.6 174.2M369.4 152.0L403.6 171.8M369.4 149.5L403.6 169.2M369.4 147.0L403.6 166.8M369.4 144.5L403.6 164.2M369.4 142.0L403.6 161.8" stroke="#5b5955" stroke-width="0.42" stroke-opacity="0.85" fill="none"/><line x1="369.4" y1="139.5" x2="403.6" y2="159.2" stroke="#9b9994" stroke-width="0.9"/><line x1="369.4" y1="166.6" x2="403.6" y2="186.3" stroke="#8d8b86" stroke-width="0.6"/><line x1="369.4" y1="167.6" x2="369.4" y2="138.3" stroke="#b9b7b2" stroke-width="1.3"/><line x1="370.1" y1="167.6" x2="370.1" y2="138.3" stroke="#55534f" stroke-width="0.35"/><line x1="386.5" y1="177.5" x2="386.5" y2="148.2" stroke="#b9b7b2" stroke-width="1.3"/><line x1="387.2" y1="177.5" x2="387.2" y2="148.2" stroke="#55534f" stroke-width="0.35"/><line x1="403.6" y1="187.3" x2="403.6" y2="158.1" stroke="#b9b7b2" stroke-width="1.3"/><line x1="404.3" y1="187.3" x2="404.3" y2="158.1" stroke="#55534f" stroke-width="0.35"/><polygon points="402.5,181.0 420.5,184.0 439.5,173.0 421.5,170.0" fill="#9d9a95"/><line x1="389.9" y1="173.8" x2="389.9" y2="175.6" stroke="#55534f" stroke-width="0.8"/><line x1="401.3" y1="180.4" x2="401.3" y2="182.2" stroke="#55534f" stroke-width="0.8"/><line x1="405.1" y1="179.5" x2="405.1" y2="181.3" stroke="#55534f" stroke-width="0.8"/><line x1="420.0" y1="170.8" x2="420.0" y2="172.6" stroke="#55534f" stroke-width="0.8"/><polyline points="388.7,173.3 402.5,181.8 421.0,170.6" fill="none" stroke="#55534f" stroke-width="1.3"/><polygon points="388.2,172.8 402.5,181.0 402.5,162.0 388.2,153.8" fill="#fbfbfa" stroke="#7d7b76" stroke-width="0.4" stroke-linejoin="round"/><polygon points="402.5,181.0 421.5,170.0 421.5,151.0 402.5,162.0" fill="#c4c2bd" stroke="#7d7b76" stroke-width="0.4" stroke-linejoin="round"/><polygon points="388.2,153.8 402.5,162.0 421.5,151.0 407.3,142.8" fill="#fdfdfc" stroke="#7d7b76" stroke-width="0.4" stroke-linejoin="round"/><polygon points="392.0,151.6 403.4,158.2 403.4,154.3 392.0,147.8" fill="#fdfdfc" stroke="#c4c2bd" stroke-width="0.3" stroke-linejoin="round"/><polygon points="403.4,158.2 418.7,149.3 418.7,145.5 403.4,154.3" fill="#dedcd8" stroke="#c4c2bd" stroke-width="0.3" stroke-linejoin="round"/><polygon points="392.0,147.8 403.4,154.3 418.7,145.5 407.3,138.9" fill="#fdfdfc" stroke="#c4c2bd" stroke-width="0.3" stroke-linejoin="round"/><polygon points="402.5,162.0 421.5,151.0 421.5,153.2 402.5,164.2" fill="#eceae7"/><polygon points="410.1,174.7 417.0,170.7 417.0,157.4 410.1,161.4" fill="#8a8884" stroke="#4a4947" stroke-width="0.3" stroke-linejoin="round"/><polygon points="411.1,170.4 416.0,167.5 416.0,159.1 411.1,162.0" fill="#4a4947"/><polygon points="412.0,167.5 415.1,165.8 415.1,161.2 412.0,163.0" fill="#b5b3ae"/><polygon points="417.7,168.4 421.0,166.5 421.0,155.5 417.7,157.4" fill="#5d5b58"/><line x1="394.6" y1="175.5" x2="394.6" y2="158.5" stroke="#d0cec9" stroke-width="0.4"/><polygon points="398.5,144.3 402.2,142.2 412.2,148.0 408.5,150.1" fill="#3a3937"/><polygon points="398.0,145.6 399.1,145.0 407.9,150.1 406.9,150.7" fill="#a8a6a1"/><rect x="353.6" y="156.5" width="4.6" height="7.4" rx="0.7" fill="#454441"/><rect x="354.4" y="157.3" width="3.0" height="2.4" rx="0.3" fill="#8e8c87"/><path d="M371.2 173.0v-6l4-7.5 7.5-3.2 2.6 2-1.2 2.8-5.6 1.2-2.6 5.2v5.5z" fill="#605e5a" stroke="#3f3e3c" stroke-width="0.45"/><rect x="369.7" y="172.0" width="9.0" height="3.5" rx="0.7" fill="#4a4947"/><rect x="359.2" y="170.5" width="6.0" height="8.5" rx="0.7" fill="#5d5b57"/><rect x="360.2" y="171.3" width="4.0" height="2.2" rx="0.3" fill="#9b9994"/><rect x="366.7" y="176.0" width="15.0" height="9.7" rx="0.7" fill="#3f3e3c"/><rect x="368.2" y="177.1" width="7.0" height="2.6" rx="0.3" fill="#807e7a"/><rect x="375.2" y="180.9" width="5.0" height="3.2" rx="0.3" fill="#66645f"/><rect x="387.2" y="168.5" width="10.5" height="10.6" rx="0.7" fill="#403f3d"/><rect x="388.6" y="169.5" width="5.0" height="2.8" rx="0.3" fill="#8a8884"/><rect x="380.7" y="181.0" width="7.0" height="8.5" rx="0.7" fill="#4f4e4b"/><rect x="381.8" y="182.1" width="3.9" height="2.2" rx="0.3" fill="#8a8884"/><rect x="363.2" y="180.5" width="4.0" height="5.5" rx="0.7" fill="#66645f"/><polygon points="351.2,177.5 385.4,197.2 385.4,169.8 351.2,150.0" fill="#5f5d59" fill-opacity="0.04"/><path d="M353.5 178.8v-27.5M355.8 180.1v-27.5M358.0 181.4v-27.5M360.3 182.8v-27.5M362.6 184.1v-27.5M364.9 185.4v-27.5M367.2 186.7v-27.5M369.4 188.0v-27.5M371.7 189.3v-27.5M374.0 190.7v-27.5M376.3 192.0v-27.5M378.6 193.3v-27.5M380.8 194.6v-27.5M383.1 195.9v-27.5M351.2 175.0L385.4 194.8M351.2 172.5L385.4 192.2M351.2 170.0L385.4 189.8M351.2 167.5L385.4 187.2M351.2 165.0L385.4 184.8M351.2 162.5L385.4 182.2M351.2 160.0L385.4 179.8M351.2 157.5L385.4 177.2M351.2 155.0L385.4 174.8M351.2 152.5L385.4 172.2" stroke="#5b5955" stroke-width="0.42" stroke-opacity="0.85" fill="none"/><line x1="351.2" y1="150.0" x2="385.4" y2="169.8" stroke="#9b9994" stroke-width="0.9"/><line x1="351.2" y1="177.1" x2="385.4" y2="196.8" stroke="#8d8b86" stroke-width="0.6"/><line x1="351.2" y1="178.1" x2="351.2" y2="148.8" stroke="#b9b7b2" stroke-width="1.3"/><line x1="351.9" y1="178.1" x2="351.9" y2="148.8" stroke="#55534f" stroke-width="0.35"/><line x1="368.3" y1="188.0" x2="368.3" y2="158.7" stroke="#b9b7b2" stroke-width="1.3"/><line x1="369.1" y1="188.0" x2="369.1" y2="158.7" stroke="#55534f" stroke-width="0.35"/><line x1="385.4" y1="197.8" x2="385.4" y2="168.6" stroke="#b9b7b2" stroke-width="1.3"/><line x1="386.2" y1="197.8" x2="386.2" y2="168.6" stroke="#55534f" stroke-width="0.35"/><polygon points="385.4,197.2 403.6,186.8 403.6,159.2 385.4,169.8" fill="#5f5d59" fill-opacity="0.04"/><path d="M387.7 195.9v-27.5M390.0 194.6v-27.5M392.2 193.3v-27.5M394.5 192.0v-27.5M396.8 190.7v-27.5M399.0 189.4v-27.5M401.3 188.1v-27.5M385.4 194.8L403.6 184.2M385.4 192.2L403.6 181.8M385.4 189.8L403.6 179.2M385.4 187.2L403.6 176.8M385.4 184.8L403.6 174.2M385.4 182.2L403.6 171.8M385.4 179.8L403.6 169.2M385.4 177.2L403.6 166.8M385.4 174.8L403.6 164.2M385.4 172.2L403.6 161.8" stroke="#5b5955" stroke-width="0.42" stroke-opacity="0.85" fill="none"/><line x1="385.4" y1="169.8" x2="403.6" y2="159.2" stroke="#9b9994" stroke-width="0.9"/><line x1="385.4" y1="196.8" x2="403.6" y2="186.3" stroke="#8d8b86" stroke-width="0.6"/><line x1="385.4" y1="197.8" x2="385.4" y2="168.6" stroke="#b9b7b2" stroke-width="1.3"/><line x1="386.2" y1="197.8" x2="386.2" y2="168.6" stroke="#55534f" stroke-width="0.35"/><line x1="403.6" y1="187.3" x2="403.6" y2="158.1" stroke="#b9b7b2" stroke-width="1.3"/><line x1="404.3" y1="187.3" x2="404.3" y2="158.1" stroke="#55534f" stroke-width="0.35"/><polygon points="295.2,208.8 313.4,198.2 313.4,170.8 295.2,181.2" fill="#5f5d59" fill-opacity="0.05"/><path d="M297.5 207.4v-27.5M299.8 206.1v-27.5M302.1 204.8v-27.5M304.3 203.5v-27.5M306.6 202.2v-27.5M308.9 200.9v-27.5M311.2 199.6v-27.5M295.2 206.2L313.4 195.8M295.2 203.8L313.4 193.2M295.2 201.2L313.4 190.8M295.2 198.8L313.4 188.2M295.2 196.2L313.4 185.8M295.2 193.8L313.4 183.2M295.2 191.2L313.4 180.8M295.2 188.8L313.4 178.2M295.2 186.2L313.4 175.8M295.2 183.8L313.4 173.2" stroke="#5b5955" stroke-width="0.42" stroke-opacity="0.85" fill="none"/><line x1="295.2" y1="181.2" x2="313.4" y2="170.8" stroke="#9b9994" stroke-width="0.9"/><line x1="295.2" y1="208.3" x2="313.4" y2="197.8" stroke="#8d8b86" stroke-width="0.6"/><line x1="295.2" y1="209.3" x2="295.2" y2="180.1" stroke="#b9b7b2" stroke-width="1.3"/><line x1="296.0" y1="209.3" x2="296.0" y2="180.1" stroke="#55534f" stroke-width="0.35"/><line x1="313.4" y1="198.8" x2="313.4" y2="169.6" stroke="#b9b7b2" stroke-width="1.3"/><line x1="314.2" y1="198.8" x2="314.2" y2="169.6" stroke="#55534f" stroke-width="0.35"/><polygon points="313.4,198.2 347.6,218.0 347.6,190.5 313.4,170.8" fill="#5f5d59" fill-opacity="0.05"/><path d="M315.7 199.6v-27.5M318.0 200.9v-27.5M320.3 202.2v-27.5M322.6 203.5v-27.5M324.8 204.8v-27.5M327.1 206.2v-27.5M329.4 207.5v-27.5M331.7 208.8v-27.5M334.0 210.1v-27.5M336.2 211.4v-27.5M338.5 212.7v-27.5M340.8 214.1v-27.5M343.1 215.4v-27.5M345.4 216.7v-27.5M313.4 195.8L347.6 215.5M313.4 193.2L347.6 213.0M313.4 190.8L347.6 210.5M313.4 188.2L347.6 208.0M313.4 185.8L347.6 205.5M313.4 183.2L347.6 203.0M313.4 180.8L347.6 200.5M313.4 178.2L347.6 198.0M313.4 175.8L347.6 195.5M313.4 173.2L347.6 193.0" stroke="#5b5955" stroke-width="0.42" stroke-opacity="0.85" fill="none"/><line x1="313.4" y1="170.8" x2="347.6" y2="190.5" stroke="#9b9994" stroke-width="0.9"/><line x1="313.4" y1="197.8" x2="347.6" y2="217.6" stroke="#8d8b86" stroke-width="0.6"/><line x1="313.4" y1="198.8" x2="313.4" y2="169.6" stroke="#b9b7b2" stroke-width="1.3"/><line x1="314.2" y1="198.8" x2="314.2" y2="169.6" stroke="#55534f" stroke-width="0.35"/><line x1="330.5" y1="208.7" x2="330.5" y2="179.4" stroke="#b9b7b2" stroke-width="1.3"/><line x1="331.3" y1="208.7" x2="331.3" y2="179.4" stroke="#55534f" stroke-width="0.35"/><line x1="347.6" y1="218.6" x2="347.6" y2="189.3" stroke="#b9b7b2" stroke-width="1.3"/><line x1="348.4" y1="218.6" x2="348.4" y2="189.3" stroke="#55534f" stroke-width="0.35"/><polygon points="346.5,212.2 364.5,215.2 383.6,204.2 365.6,201.2" fill="#9d9a95"/><line x1="334.0" y1="205.0" x2="334.0" y2="206.8" stroke="#55534f" stroke-width="0.8"/><line x1="345.3" y1="211.7" x2="345.3" y2="213.5" stroke="#55534f" stroke-width="0.8"/><line x1="349.1" y1="210.8" x2="349.1" y2="212.6" stroke="#55534f" stroke-width="0.8"/><line x1="364.1" y1="202.1" x2="364.1" y2="203.9" stroke="#55534f" stroke-width="0.8"/><polyline points="332.8,204.6 346.5,213.1 365.1,201.8" fill="none" stroke="#55534f" stroke-width="1.3"/><polygon points="332.2,204.0 346.5,212.2 346.5,193.2 332.2,185.0" fill="#fbfbfa" stroke="#7d7b76" stroke-width="0.4" stroke-linejoin="round"/><polygon points="346.5,212.2 365.6,201.2 365.6,182.2 346.5,193.2" fill="#c4c2bd" stroke="#7d7b76" stroke-width="0.4" stroke-linejoin="round"/><polygon points="332.2,185.0 346.5,193.2 365.6,182.2 351.3,174.0" fill="#fdfdfc" stroke="#7d7b76" stroke-width="0.4" stroke-linejoin="round"/><polygon points="336.1,182.8 347.5,189.4 347.5,185.6 336.1,179.0" fill="#fdfdfc" stroke="#c4c2bd" stroke-width="0.3" stroke-linejoin="round"/><polygon points="347.5,189.4 362.7,180.6 362.7,176.8 347.5,185.6" fill="#dedcd8" stroke="#c4c2bd" stroke-width="0.3" stroke-linejoin="round"/><polygon points="336.1,179.0 347.5,185.6 362.7,176.8 351.3,170.2" fill="#fdfdfc" stroke="#c4c2bd" stroke-width="0.3" stroke-linejoin="round"/><polygon points="346.5,193.2 365.6,182.2 365.6,184.4 346.5,195.4" fill="#eceae7"/><polygon points="354.2,205.9 361.0,202.0 361.0,188.7 354.2,192.7" fill="#8a8884" stroke="#4a4947" stroke-width="0.3" stroke-linejoin="round"/><polygon points="355.1,201.6 360.1,198.7 360.1,190.4 355.1,193.2" fill="#4a4947"/><polygon points="356.1,198.8 359.1,197.0 359.1,192.5 356.1,194.2" fill="#b5b3ae"/><polygon points="361.8,199.6 365.0,197.8 365.0,186.8 361.8,188.6" fill="#5d5b58"/><line x1="338.7" y1="206.7" x2="338.7" y2="189.7" stroke="#d0cec9" stroke-width="0.4"/><polygon points="342.6,175.5 346.2,173.4 356.2,179.2 352.6,181.3" fill="#3a3937"/><polygon points="342.1,176.8 343.1,176.2 352.0,181.4 350.9,182.0" fill="#a8a6a1"/><rect x="297.6" y="187.8" width="4.6" height="7.4" rx="0.7" fill="#454441"/><rect x="298.4" y="188.6" width="3.0" height="2.4" rx="0.3" fill="#8e8c87"/><path d="M315.2 204.2v-6l4-7.5 7.5-3.2 2.6 2-1.2 2.8-5.6 1.2-2.6 5.2v5.5z" fill="#605e5a" stroke="#3f3e3c" stroke-width="0.45"/><rect x="313.8" y="203.2" width="9.0" height="3.5" rx="0.7" fill="#4a4947"/><rect x="303.2" y="201.8" width="6.0" height="8.5" rx="0.7" fill="#5d5b57"/><rect x="304.2" y="202.6" width="4.0" height="2.2" rx="0.3" fill="#9b9994"/><rect x="310.8" y="207.2" width="15.0" height="9.7" rx="0.7" fill="#3f3e3c"/><rect x="312.2" y="208.3" width="7.0" height="2.6" rx="0.3" fill="#807e7a"/><rect x="319.2" y="212.2" width="5.0" height="3.2" rx="0.3" fill="#66645f"/><rect x="331.2" y="199.8" width="10.5" height="10.6" rx="0.7" fill="#403f3d"/><rect x="332.6" y="200.8" width="5.0" height="2.8" rx="0.3" fill="#8a8884"/><rect x="324.8" y="212.2" width="7.0" height="8.5" rx="0.7" fill="#4f4e4b"/><rect x="325.9" y="213.3" width="3.9" height="2.2" rx="0.3" fill="#8a8884"/><rect x="307.2" y="211.8" width="4.0" height="5.5" rx="0.7" fill="#66645f"/><polygon points="295.2,208.8 329.5,228.5 329.5,201.0 295.2,181.2" fill="#5f5d59" fill-opacity="0.04"/><path d="M297.5 210.1v-27.5M299.8 211.4v-27.5M302.1 212.7v-27.5M304.4 214.0v-27.5M306.7 215.3v-27.5M308.9 216.7v-27.5M311.2 218.0v-27.5M313.5 219.3v-27.5M315.8 220.6v-27.5M318.1 221.9v-27.5M320.3 223.2v-27.5M322.6 224.6v-27.5M324.9 225.9v-27.5M327.2 227.2v-27.5M295.2 206.2L329.5 226.0M295.2 203.8L329.5 223.5M295.2 201.2L329.5 221.0M295.2 198.8L329.5 218.5M295.2 196.2L329.5 216.0M295.2 193.8L329.5 213.5M295.2 191.2L329.5 211.0M295.2 188.8L329.5 208.5M295.2 186.2L329.5 206.0M295.2 183.8L329.5 203.5" stroke="#5b5955" stroke-width="0.42" stroke-opacity="0.85" fill="none"/><line x1="295.2" y1="181.2" x2="329.5" y2="201.0" stroke="#9b9994" stroke-width="0.9"/><line x1="295.2" y1="208.3" x2="329.5" y2="228.1" stroke="#8d8b86" stroke-width="0.6"/><line x1="295.2" y1="209.3" x2="295.2" y2="180.1" stroke="#b9b7b2" stroke-width="1.3"/><line x1="296.0" y1="209.3" x2="296.0" y2="180.1" stroke="#55534f" stroke-width="0.35"/><line x1="312.4" y1="219.2" x2="312.4" y2="189.9" stroke="#b9b7b2" stroke-width="1.3"/><line x1="313.1" y1="219.2" x2="313.1" y2="189.9" stroke="#55534f" stroke-width="0.35"/><line x1="329.5" y1="229.1" x2="329.5" y2="199.8" stroke="#b9b7b2" stroke-width="1.3"/><line x1="330.2" y1="229.1" x2="330.2" y2="199.8" stroke="#55534f" stroke-width="0.35"/><polygon points="329.5,228.5 347.6,218.0 347.6,190.5 329.5,201.0" fill="#5f5d59" fill-opacity="0.04"/><path d="M331.7 227.2v-27.5M334.0 225.9v-27.5M336.3 224.6v-27.5M338.6 223.2v-27.5M340.8 221.9v-27.5M343.1 220.6v-27.5M345.4 219.3v-27.5M329.5 226.0L347.6 215.5M329.5 223.5L347.6 213.0M329.5 221.0L347.6 210.5M329.5 218.5L347.6 208.0M329.5 216.0L347.6 205.5M329.5 213.5L347.6 203.0M329.5 211.0L347.6 200.5M329.5 208.5L347.6 198.0M329.5 206.0L347.6 195.5M329.5 203.5L347.6 193.0" stroke="#5b5955" stroke-width="0.42" stroke-opacity="0.85" fill="none"/><line x1="329.5" y1="201.0" x2="347.6" y2="190.5" stroke="#9b9994" stroke-width="0.9"/><line x1="329.5" y1="228.1" x2="347.6" y2="217.6" stroke="#8d8b86" stroke-width="0.6"/><line x1="329.5" y1="229.1" x2="329.5" y2="199.8" stroke="#b9b7b2" stroke-width="1.3"/><line x1="330.2" y1="229.1" x2="330.2" y2="199.8" stroke="#55534f" stroke-width="0.35"/><line x1="347.6" y1="218.6" x2="347.6" y2="189.3" stroke="#b9b7b2" stroke-width="1.3"/><line x1="348.4" y1="218.6" x2="348.4" y2="189.3" stroke="#55534f" stroke-width="0.35"/><ellipse cx="362.8" cy="196.1" rx="1.6" ry="1.8" fill="#454441"/><path d="M360.2 199.2q0-1.6 2.5-1.6t2.5 1.6v7.4h-5z" fill="#454441"/><rect x="360.8" y="203.6" width="1.8" height="10.1" fill="#5d5b57"/><rect x="362.9" y="203.6" width="1.8" height="9.8" fill="#5d5b57"/><polygon points="500.5,199.8 508.5,203.2 532.2,190.6 523.4,186.6" fill="#a3a09b"/><polygon points="503.4,181.0 518.1,189.5 518.1,175.5 503.4,167.0" fill="#55534f" stroke="#3a3937" stroke-width="0.35" stroke-linejoin="round"/><polygon points="518.1,189.5 523.3,186.5 523.3,172.5 518.1,175.5" fill="#55534f" stroke="#3a3937" stroke-width="0.35" stroke-linejoin="round"/><polygon points="503.4,167.0 518.1,175.5 523.3,172.5 508.6,164.0" fill="#6f6d69" stroke="#3a3937" stroke-width="0.35" stroke-linejoin="round"/><polygon points="496.0,176.5 502.9,180.5 502.9,161.5 496.0,157.5" fill="#6a6864" stroke="#3a3937" stroke-width="0.35" stroke-linejoin="round"/><polygon points="502.9,180.5 509.0,177.0 509.0,158.0 502.9,161.5" fill="#55534f" stroke="#3a3937" stroke-width="0.35" stroke-linejoin="round"/><polygon points="496.0,157.5 502.9,161.5 509.0,158.0 502.1,154.0" fill="#8a8884" stroke="#3a3937" stroke-width="0.35" stroke-linejoin="round"/><polygon points="489.5,178.0 498.2,183.0 498.2,169.5 489.5,164.5" fill="#605e5a" stroke="#3a3937" stroke-width="0.35" stroke-linejoin="round"/><polygon points="498.2,183.0 504.2,179.5 504.2,166.0 498.2,169.5" fill="#4f4e4b" stroke="#3a3937" stroke-width="0.35" stroke-linejoin="round"/><polygon points="489.5,164.5 498.2,169.5 504.2,166.0 495.6,161.0" fill="#807e7a" stroke="#3a3937" stroke-width="0.35" stroke-linejoin="round"/><polygon points="499.5,181.0 504.7,184.0 504.7,172.0 499.5,169.0" fill="#66645f" stroke="#3a3937" stroke-width="0.3" stroke-linejoin="round"/><polygon points="504.7,184.0 509.0,181.5 509.0,169.5 504.7,172.0" fill="#55534f" stroke="#3a3937" stroke-width="0.3" stroke-linejoin="round"/><polygon points="499.5,169.0 504.7,172.0 509.0,169.5 503.8,166.5" fill="#807e7a" stroke="#3a3937" stroke-width="0.3" stroke-linejoin="round"/><polygon points="475.3,185.2 500.5,199.8 500.5,181.8 475.3,167.2" fill="#fdfdfc" stroke="#7d7b76" stroke-width="0.4" stroke-linejoin="round"/><polygon points="500.5,199.8 518.2,189.6 518.2,171.6 500.5,181.8" fill="#f4f3f1" stroke="#7d7b76" stroke-width="0.4" stroke-linejoin="round"/><polygon points="475.3,167.2 500.5,181.8 501.9,180.9 477.6,166.9" fill="#ffffff" stroke="#7d7b76" stroke-width="0.3" stroke-linejoin="round"/><polygon points="500.5,181.8 518.2,171.6 516.8,170.8 500.0,180.4" fill="#ffffff" stroke="#7d7b76" stroke-width="0.3" stroke-linejoin="round"/><polygon points="475.3,167.2 493.0,157.0 494.4,157.8 477.6,167.5" fill="#f4f3f1" stroke="#7d7b76" stroke-width="0.3" stroke-linejoin="round"/><polygon points="485.3,187.8 499.1,195.8 499.1,183.1 485.3,175.1" fill="#55534f" stroke="#3a3937" stroke-width="0.3" stroke-linejoin="round"/><polygon points="487.0,187.3 497.4,193.3 497.4,187.4 487.0,181.4" fill="#807e7a"/><polygon points="489.2,186.7 495.2,190.2 495.2,181.7 489.2,178.2" fill="#3f3e3c"/><path d="M506.6 191.8L516.1 186.2V176.8L506.6 182.2Z" fill="#55534f" stroke="#3a3937" stroke-width="0.3" stroke-linejoin="round"/><polygon points="508.1,189.8 514.6,185.1 514.6,178.4 508.1,183.2" fill="#b1afaa"/><polygon points="501.4,194.2 503.5,193.0 503.5,185.0 501.4,186.2" fill="#6a6864"/><polygon points="467.0,186.5 477.4,192.5 477.4,187.0 467.0,181.0" fill="#d3d1cd" stroke="#77756f" stroke-width="0.3" stroke-linejoin="round"/><polygon points="477.4,192.5 481.7,190.0 481.7,184.5 477.4,187.0" fill="#bdbbb6" stroke="#77756f" stroke-width="0.3" stroke-linejoin="round"/><polygon points="467.0,181.0 477.4,187.0 481.7,184.5 471.3,178.5" fill="#f4f3f1" stroke="#77756f" stroke-width="0.3" stroke-linejoin="round"/><path d="M458.9 183.0l3.4-1.6 0 7.2 4.2 2 -3.4 1.8 -4.2-2.2z" fill="#f1f0ee" stroke="#8d8b86" stroke-width="0.3"/><ellipse cx="463.5" cy="181.5" rx="1.6" ry="1.7" fill="#454441"/><rect x="461.1" y="183.1" width="5" height="6" rx="1.4" fill="#454441"/><path d="M461.5 188.5h6v1.8h-1.2v3.8h-1.4v-3.4h-3.4z" fill="#5d5b57"/><path d="M466.4 186.5l3.4-1.6 0 7.2 4.2 2 -3.4 1.8 -4.2-2.2z" fill="#f1f0ee" stroke="#8d8b86" stroke-width="0.3"/><ellipse cx="471.0" cy="185.0" rx="1.6" ry="1.7" fill="#454441"/><rect x="468.6" y="186.6" width="5" height="6" rx="1.4" fill="#454441"/><path d="M469.0 192.0h6v1.8h-1.2v3.8h-1.4v-3.4h-3.4z" fill="#5d5b57"/><path d="M468 183l3-6" stroke="#454441" stroke-width="0.6"/><path d="M477.2 205.2l4.4-14 4.6 13.6M481.6 191v15M479.3 199.5h4.8" stroke="#3f3e3c" stroke-width="0.9" fill="none"/><rect x="479.6" y="187.6" width="4.4" height="3.6" rx="0.6" fill="#3f3e3c"/><polygon points="436.9,244.0 441.9,247.0 471.0,231.5 462.0,229.5" fill="#9d9a95"/><polygon points="401.4,223.5 436.9,244.0 436.9,236.8 401.4,216.3" fill="#fdfdfc" stroke="#7d7b76" stroke-width="0.4" stroke-linejoin="round"/><polygon points="436.9,244.0 462.0,229.5 462.0,222.3 436.9,236.8" fill="#e9e7e4" stroke="#7d7b76" stroke-width="0.4" stroke-linejoin="round"/><polygon points="401.4,216.3 436.9,236.8 462.0,222.3 426.5,201.8" fill="#fbfbfa" stroke="#7d7b76" stroke-width="0.4" stroke-linejoin="round"/><polygon points="401.4,223.5 436.9,244.0 436.9,239.8 401.4,219.3" fill="#5f5d59"/><polygon points="436.9,244.0 462.0,229.5 462.0,225.3 436.9,239.8" fill="#4f4e4b"/><polygon points="405.6,216.3 426.5,204.2 457.9,222.3 436.9,234.4" fill="#85837e" stroke="#6a6864" stroke-width="0.3" stroke-linejoin="round"/><polygon points="405.6,216.3 426.5,204.2 426.5,205.8 405.6,217.9" fill="#c9c7c3"/><polygon points="431.4,208.0 434.5,209.8 434.5,193.8 431.4,192.0" fill="#fcfcfb" stroke="#8d8b86" stroke-width="0.35" stroke-linejoin="round"/><polygon points="434.5,209.8 436.9,208.4 436.9,192.4 434.5,193.8" fill="#d9d7d3" stroke="#8d8b86" stroke-width="0.35" stroke-linejoin="round"/><polygon points="431.4,192.0 434.5,193.8 436.9,192.4 433.8,190.6" fill="#fdfdfc" stroke="#8d8b86" stroke-width="0.35" stroke-linejoin="round"/><polygon points="412.5,205.5 436.9,192.4 436.9,197.0 412.5,210.1" fill="#f1f0ee" stroke="#8d8b86" stroke-width="0.3" stroke-linejoin="round"/><polygon points="409.4,203.7 433.8,190.6 436.9,192.4 412.5,205.5" fill="#ffffff" stroke="#8d8b86" stroke-width="0.3" stroke-linejoin="round"/><polygon points="424.3,205.6 427.3,207.2 427.3,187.2 424.3,185.6" fill="#fdfdfc" stroke="#8d8b86" stroke-width="0.35" stroke-linejoin="round"/><polygon points="427.3,207.2 430.1,205.7 430.1,185.7 427.3,187.2" fill="#dddbd7" stroke="#8d8b86" stroke-width="0.35" stroke-linejoin="round"/><polygon points="424.3,185.6 427.3,187.2 430.1,185.7 427.1,184.0" fill="#fdfdfc" stroke="#8d8b86" stroke-width="0.35" stroke-linejoin="round"/><polygon points="424.3,185.6 427.3,187.2 430.1,185.7 427.1,184.0 427.2,183.1" fill="#ffffff" stroke="#8d8b86" stroke-width="0.3" stroke-linejoin="round"/><line x1="427.2" y1="205.6" x2="427.2" y2="212.1" stroke="#4a4947" stroke-width="1.2"/><polygon points="409.4,220.7 412.5,222.5 412.5,205.5 409.4,203.7" fill="#fcfcfb" stroke="#8d8b86" stroke-width="0.35" stroke-linejoin="round"/><polygon points="412.5,222.5 414.9,221.1 414.9,204.1 412.5,205.5" fill="#d9d7d3" stroke="#8d8b86" stroke-width="0.35" stroke-linejoin="round"/><polygon points="409.4,203.7 412.5,205.5 414.9,204.1 411.8,202.3" fill="#fdfdfc" stroke="#8d8b86" stroke-width="0.35" stroke-linejoin="round"/><polygon points="434.0,222.1 436.6,220.6 439.2,222.1 436.6,223.6" fill="#5d5b57"/><polygon points="451.0,217.0 461.4,223.0 461.4,217.5 451.0,211.5" fill="#d3d1cd" stroke="#77756f" stroke-width="0.3" stroke-linejoin="round"/><polygon points="461.4,223.0 465.7,220.5 465.7,215.0 461.4,217.5" fill="#bdbbb6" stroke="#77756f" stroke-width="0.3" stroke-linejoin="round"/><polygon points="451.0,211.5 461.4,217.5 465.7,215.0 455.3,209.0" fill="#f4f3f1" stroke="#77756f" stroke-width="0.3" stroke-linejoin="round"/><polygon points="455.0,211.5 458.9,213.8 458.9,209.8 455.0,207.5" fill="#3f3e3c" stroke="#333" stroke-width="0.2" stroke-linejoin="round"/><polygon points="458.9,213.8 459.8,213.2 459.8,209.2 458.9,209.8" fill="#3f3e3c" stroke="#333" stroke-width="0.2" stroke-linejoin="round"/><polygon points="455.0,207.5 458.9,209.8 459.8,209.2 455.9,207.0" fill="#55534f" stroke="#333" stroke-width="0.2" stroke-linejoin="round"/><path d="M456.9 213.0l3.4-1.6 0 7.2 4.2 2 -3.4 1.8 -4.2-2.2z" fill="#f1f0ee" stroke="#8d8b86" stroke-width="0.3"/><ellipse cx="461.5" cy="211.5" rx="1.6" ry="1.7" fill="#454441"/><rect x="459.1" y="213.1" width="5" height="6" rx="1.4" fill="#454441"/><path d="M459.5 218.5h6v1.8h-1.2v3.8h-1.4v-3.4h-3.4z" fill="#5d5b57"/><polygon points="407.1,263.0 412.1,266.0 441.2,250.5 432.2,248.5" fill="#9d9a95"/><polygon points="371.6,242.5 407.1,263.0 407.1,255.8 371.6,235.3" fill="#fdfdfc" stroke="#7d7b76" stroke-width="0.4" stroke-linejoin="round"/><polygon points="407.1,263.0 432.2,248.5 432.2,241.3 407.1,255.8" fill="#e9e7e4" stroke="#7d7b76" stroke-width="0.4" stroke-linejoin="round"/><polygon points="371.6,235.3 407.1,255.8 432.2,241.3 396.7,220.8" fill="#fbfbfa" stroke="#7d7b76" stroke-width="0.4" stroke-linejoin="round"/><polygon points="371.6,242.5 407.1,263.0 407.1,258.8 371.6,238.3" fill="#5f5d59"/><polygon points="407.1,263.0 432.2,248.5 432.2,244.3 407.1,258.8" fill="#4f4e4b"/><polygon points="375.8,235.3 396.7,223.2 428.1,241.3 407.1,253.4" fill="#85837e" stroke="#6a6864" stroke-width="0.3" stroke-linejoin="round"/><polygon points="375.8,235.3 396.7,223.2 396.7,224.8 375.8,236.9" fill="#c9c7c3"/><polygon points="404.2,228.5 407.3,230.3 407.3,214.3 404.2,212.5" fill="#fcfcfb" stroke="#8d8b86" stroke-width="0.35" stroke-linejoin="round"/><polygon points="407.3,230.3 409.7,228.9 409.7,212.9 407.3,214.3" fill="#d9d7d3" stroke="#8d8b86" stroke-width="0.35" stroke-linejoin="round"/><polygon points="404.2,212.5 407.3,214.3 409.7,212.9 406.6,211.1" fill="#fdfdfc" stroke="#8d8b86" stroke-width="0.35" stroke-linejoin="round"/><polygon points="385.3,226.0 409.7,212.9 409.7,217.5 385.3,230.6" fill="#f1f0ee" stroke="#8d8b86" stroke-width="0.3" stroke-linejoin="round"/><polygon points="382.2,224.2 406.6,211.1 409.7,212.9 385.3,226.0" fill="#ffffff" stroke="#8d8b86" stroke-width="0.3" stroke-linejoin="round"/><polygon points="394.2,227.8 397.1,229.4 397.1,209.4 394.2,207.8" fill="#fdfdfc" stroke="#8d8b86" stroke-width="0.35" stroke-linejoin="round"/><polygon points="397.1,229.4 399.9,227.8 399.9,207.8 397.1,209.4" fill="#dddbd7" stroke="#8d8b86" stroke-width="0.35" stroke-linejoin="round"/><polygon points="394.2,207.8 397.1,209.4 399.9,207.8 397.0,206.2" fill="#fdfdfc" stroke="#8d8b86" stroke-width="0.35" stroke-linejoin="round"/><polygon points="394.2,207.8 397.1,209.4 399.9,207.8 397.0,206.2 397.1,205.3" fill="#ffffff" stroke="#8d8b86" stroke-width="0.3" stroke-linejoin="round"/><line x1="397.1" y1="227.8" x2="397.1" y2="234.3" stroke="#4a4947" stroke-width="1.2"/><polygon points="382.2,241.2 385.3,243.0 385.3,226.0 382.2,224.2" fill="#fcfcfb" stroke="#8d8b86" stroke-width="0.35" stroke-linejoin="round"/><polygon points="385.3,243.0 387.7,241.6 387.7,224.6 385.3,226.0" fill="#d9d7d3" stroke="#8d8b86" stroke-width="0.35" stroke-linejoin="round"/><polygon points="382.2,224.2 385.3,226.0 387.7,224.6 384.6,222.8" fill="#fdfdfc" stroke="#8d8b86" stroke-width="0.35" stroke-linejoin="round"/><polygon points="404.2,241.1 406.8,239.6 409.4,241.1 406.8,242.6" fill="#5d5b57"/><polygon points="377.0,256.0 388.3,262.5 388.3,257.0 377.0,250.5" fill="#d3d1cd" stroke="#77756f" stroke-width="0.3" stroke-linejoin="round"/><polygon points="388.3,262.5 392.6,260.0 392.6,254.5 388.3,257.0" fill="#bdbbb6" stroke="#77756f" stroke-width="0.3" stroke-linejoin="round"/><polygon points="377.0,250.5 388.3,257.0 392.6,254.5 381.3,248.0" fill="#f4f3f1" stroke="#77756f" stroke-width="0.3" stroke-linejoin="round"/><path d="M376.9 253.0l3.4-1.6 0 7.2 4.2 2 -3.4 1.8 -4.2-2.2z" fill="#f1f0ee" stroke="#8d8b86" stroke-width="0.3"/><ellipse cx="381.5" cy="251.5" rx="1.6" ry="1.7" fill="#8d8b86"/><rect x="379.1" y="253.1" width="5" height="6" rx="1.4" fill="#8d8b86"/><path d="M379.5 258.5h6v1.8h-1.2v3.8h-1.4v-3.4h-3.4z" fill="#5d5b57"/><path d="M384.4 256.5l3.4-1.6 0 7.2 4.2 2 -3.4 1.8 -4.2-2.2z" fill="#f1f0ee" stroke="#8d8b86" stroke-width="0.3"/><ellipse cx="389.0" cy="255.0" rx="1.6" ry="1.7" fill="#8d8b86"/><rect x="386.6" y="256.6" width="5" height="6" rx="1.4" fill="#8d8b86"/><path d="M387.0 262.0h6v1.8h-1.2v3.8h-1.4v-3.4h-3.4z" fill="#5d5b57"/><polyline points="141.5,122.5 212.5,122.5 212.5,149.0 275.0,149.0" fill="none" stroke="#fff" stroke-opacity="0.76" stroke-width="1"/><polyline points="549.0,88.5 497.0,88.5 497.0,131.0 447.0,131.0" fill="none" stroke="#fff" stroke-opacity="0.76" stroke-width="1"/><circle cx="447.0" cy="131.0" r="4.4" fill="#fff"/><polyline points="156.3,208.0 251.3,208.0 251.3,222.0 344.0,222.0" fill="none" stroke="#fff" stroke-opacity="0.76" stroke-width="1"/><circle cx="344.0" cy="222.0" r="4.4" fill="#fff"/><polyline points="497.0,206.3 550.8,206.3 550.8,190.0 602.6,190.0" fill="none" stroke="#fff" stroke-opacity="0.76" stroke-width="1"/><circle cx="497.0" cy="206.3" r="4.4" fill="#fff"/><polyline points="431.3,220.0 523.5,220.0 523.5,281.5 615.5,281.5" fill="none" stroke="#fff" stroke-opacity="0.76" stroke-width="1"/><circle cx="431.3" cy="220.0" r="4.4" fill="#fff"/><polyline points="393.0,242.5 423.0,242.5 423.0,270.0 452.0,270.0" fill="none" stroke="#fff" stroke-opacity="0.76" stroke-width="1"/><circle cx="393.0" cy="242.5" r="4.4" fill="#fff"/><g stroke="#fff" stroke-width="3.2" stroke-linecap="round"><line x1="759.2" y1="3.9" x2="769.5" y2="0.5"/><line x1="759.2" y1="9.7" x2="769.3" y2="6.4"/><line x1="759.2" y1="15.6" x2="769.3" y2="12.2"/></g></svg>
<div class="bx" style="left:20.2px;top:95.9px;width:121.3px;height:53.1px"></div>
<div class="bx" style="left:549px;top:61.5px;width:127.3px;height:53.8px"></div>
<div class="bx" style="left:75.8px;top:189.8px;width:80.5px;height:38.0px"></div>
<div class="bx" style="left:602.6px;top:176.3px;width:171.9px;height:28.8px"></div>
<div class="bx" style="left:615.5px;top:264.8px;width:169.5px;height:33.5px"></div>
<div class="bx" style="left:452px;top:263.3px;width:106.8px;height:30.2px"></div>
<div class="red" style="left:91.8px;top:354.5px;width:42.5px;height:41.0px"></div>
<div class="red" style="left:364px;top:358px;width:41.7px;height:27.3px"></div>
<div class="red" style="left:632.1px;top:362.5px;width:42.3px;height:13.7px"></div>
<div class="vl" style="left:192.5px;top:335px;height:81px"></div><div class="vl" style="left:463.8px;top:330px;height:86px"></div>
<svg width="800" height="416" viewBox="0 0 800 416">
<polyline points="523.5,263.3 523.5,281.5 558.8,281.5" fill="none" stroke="#fff" stroke-opacity="0.5" stroke-width="1"/><defs><linearGradient id="cg" x1="0" y1="0" x2="1" y2="1"><stop offset="0" stop-color="#cfcdc9"/><stop offset="1" stop-color="#eceae7"/></linearGradient></defs><circle cx="21.2" cy="94.5" r="7.25" fill="url(#cg)" stroke="#fff" stroke-width="1.3"/><circle cx="21.2" cy="94.5" r="6.4" fill="none" stroke="#8d8b87" stroke-width="0.4"/><circle cx="550.3" cy="60.4" r="7.25" fill="url(#cg)" stroke="#fff" stroke-width="1.3"/><circle cx="550.3" cy="60.4" r="6.4" fill="none" stroke="#8d8b87" stroke-width="0.4"/><circle cx="76.3" cy="191" r="7.25" fill="url(#cg)" stroke="#fff" stroke-width="1.3"/><circle cx="76.3" cy="191" r="6.4" fill="none" stroke="#8d8b87" stroke-width="0.4"/><circle cx="605.5" cy="176.4" r="7.25" fill="url(#cg)" stroke="#fff" stroke-width="1.3"/><circle cx="605.5" cy="176.4" r="6.4" fill="none" stroke="#8d8b87" stroke-width="0.4"/><circle cx="614.6" cy="264.5" r="7.25" fill="url(#cg)" stroke="#fff" stroke-width="1.3"/><circle cx="614.6" cy="264.5" r="6.4" fill="none" stroke="#8d8b87" stroke-width="0.4"/><circle cx="450.3" cy="262.8" r="7.25" fill="url(#cg)" stroke="#fff" stroke-width="1.3"/><circle cx="450.3" cy="262.8" r="6.4" fill="none" stroke="#8d8b87" stroke-width="0.4"/>
<text x="61.14" y="34.85" font-size="32.95" fill="#fff">智能制造效益显著</text>
<text x="30.19" y="117.4" font-size="13.77" font-weight="bold" fill="#262626">生产操作</text>
<text x="85.19" y="210.3" font-size="13.57" font-weight="bold" fill="#262626">生产安全</text>
<text x="559.29" y="83.4" font-size="13.41" font-weight="bold" fill="#262626">材料管理</text>
<text x="612.69" y="197.1" font-size="13.76" font-weight="bold" fill="#262626">生产人力</text>
<text x="461.39" y="284.4" font-size="13.67" font-weight="bold" fill="#262626">生产研发</text>
<text x="624.51" y="286.4" font-size="13.97" font-weight="bold" fill="#262626">设备维护</text>
<text x="6.46" y="372.8" font-size="10.33" font-weight="bold" fill="#fff">资本投资效率</text>
<text x="221.20" y="374.2" font-size="10.17" font-weight="bold" fill="#fff">生产成本较低</text>
<text x="502.10" y="380.9" font-size="10.37" font-weight="bold" fill="#fff">收入增长</text>
</svg>
<div id="txt" style="position:absolute;left:0;top:0;width:800px;height:416px;will-change:transform">
<div class="sq" style="left:12.9px;top:160.4px"></div><div class="sq" style="left:74.1px;top:243.4px"></div><div class="sq" style="left:74.1px;top:274.4px"></div><div class="sq" style="left:541.8px;top:122.6px"></div><div class="sq" style="left:541.8px;top:139.4px"></div><div class="sq" style="left:598.7px;top:214.2px"></div><div class="sq" style="left:598.7px;top:244.9px"></div><div class="sq" style="left:441.3px;top:303.9px"></div><div class="sq" style="left:613.3px;top:303.9px"></div><div class="sq" style="left:613.3px;top:320.9px"></div>
<div class="t" style="left:18.6px;top:6.00px;font-size:32.8px;color:#fff;letter-spacing:-1.166px;">5G</div>
<div class="t" style="left:31.0px;top:123.00px;font-size:11.4px;color:#262626;letter-spacing:-0.142px;-webkit-text-stroke:0.42px #262626;">PRODUCTION</div>
<div class="t" style="left:31.0px;top:137.00px;font-size:11.4px;color:#262626;letter-spacing:0.031px;-webkit-text-stroke:0.42px #262626;">OPERATION</div>
<div class="t" style="left:85.5px;top:217.00px;font-size:11.4px;color:#262626;letter-spacing:-0.362px;-webkit-text-stroke:0.42px #262626;">SAFETY</div>
<div class="t" style="left:559.5px;top:89.00px;font-size:11.4px;color:#262626;letter-spacing:0.160px;-webkit-text-stroke:0.42px #262626;">MATERIALS</div>
<div class="t" style="left:559.5px;top:103.00px;font-size:11.4px;color:#262626;letter-spacing:-0.127px;-webkit-text-stroke:0.42px #262626;">MANAGEMENT</div>
<div class="t" style="left:671.9px;top:187.00px;font-size:11.6px;color:#262626;letter-spacing:-0.532px;-webkit-text-stroke:0.5px #262626;">WORKFORCE</div>
<div class="t" style="left:516.3px;top:273.00px;font-size:13px;color:#262626;letter-spacing:-0.977px;-webkit-text-stroke:0.25px #262626;">R&amp;D</div>
<div class="t" style="left:680.6px;top:274.00px;font-size:13px;color:#262626;letter-spacing:0.178px;-webkit-text-stroke:0.55px #262626;">MAINTENANCE</div>
<div class="t" style="left:23.8px;top:157.00px;font-size:11.6px;color:#fff;letter-spacing:-0.150px;-webkit-text-stroke:0.22px #fff;">Control and manage remotely and</div>
<div class="t" style="left:23.8px;top:171.00px;font-size:11.6px;color:#fff;letter-spacing:-0.028px;-webkit-text-stroke:0.22px #fff;">centrally, reengineer in real time</div>
<div class="t" style="left:85.0px;top:240.00px;font-size:11.6px;color:#fff;letter-spacing:-0.068px;-webkit-text-stroke:0.22px #fff;">Global and remote</div>
<div class="t" style="left:85.0px;top:254.00px;font-size:11.6px;color:#fff;letter-spacing:0.080px;-webkit-text-stroke:0.22px #fff;">prediction</div>
<div class="t" style="left:85.0px;top:271.00px;font-size:11.6px;color:#fff;letter-spacing:-0.139px;-webkit-text-stroke:0.22px #fff;">Reduced hazardous tasks</div>
<div class="t" style="left:85.0px;top:286.00px;font-size:11.6px;color:#fff;letter-spacing:-0.069px;-webkit-text-stroke:0.22px #fff;">for employees</div>
<div class="t" style="left:552.5px;top:119.00px;font-size:11.6px;color:#fff;letter-spacing:-0.007px;-webkit-text-stroke:0.22px #fff;">Full transparency of materials and status</div>
<div class="t" style="left:552.5px;top:136.00px;font-size:11.6px;color:#fff;letter-spacing:-0.044px;-webkit-text-stroke:0.22px #fff;">Selfordering and improved accuracy in dealing</div>
<div class="t" style="left:552.5px;top:150.00px;font-size:11.6px;color:#fff;letter-spacing:-0.135px;-webkit-text-stroke:0.22px #fff;">with suppliers</div>
<div class="t" style="left:609.2px;top:211.00px;font-size:11.6px;color:#fff;letter-spacing:0.024px;-webkit-text-stroke:0.22px #fff;">Connected workforce &amp; tools improve</div>
<div class="t" style="left:609.2px;top:225.00px;font-size:11.6px;color:#fff;letter-spacing:-0.024px;-webkit-text-stroke:0.22px #fff;">speed and quality</div>
<div class="t" style="left:609.2px;top:242.00px;font-size:11.6px;color:#fff;letter-spacing:-0.000px;-webkit-text-stroke:0.22px #fff;">Workforce utilized for advance tasks</div>
<div class="t" style="left:452.0px;top:301.00px;font-size:11.6px;color:#fff;letter-spacing:0.084px;-webkit-text-stroke:0.22px #fff;">Insights into how to improve</div>
<div class="t" style="left:452.0px;top:315.00px;font-size:11.6px;color:#fff;letter-spacing:-0.065px;-webkit-text-stroke:0.22px #fff;">products based on production</div>
<div class="t" style="left:452.0px;top:330.00px;font-size:11.6px;color:#fff;letter-spacing:-0.207px;-webkit-text-stroke:0.22px #fff;">and usage</div>
<div class="t" style="left:624.3px;top:301.00px;font-size:11.6px;color:#fff;letter-spacing:-0.015px;-webkit-text-stroke:0.22px #fff;">Predictive maintenance</div>
<div class="t" style="left:624.3px;top:318.00px;font-size:11.6px;color:#fff;letter-spacing:0.050px;-webkit-text-stroke:0.22px #fff;">Improved machine uptime</div>
<div class="t" style="left:93.0px;top:344.00px;font-size:10.2px;color:#eee;letter-spacing:-0.066px;font-family:'Liberation Mono',monospace;transform:scaleY(1.22);transform-origin:0 6.00px;-webkit-text-stroke:0.2px #eee;">5%- 10%</div>
<div class="t" style="left:6.8px;top:377.00px;font-size:10px;color:#fff;letter-spacing:-0.013px;">Capital efficiency</div>
<div class="t" style="left:365.6px;top:345.00px;font-size:10px;color:#eee;letter-spacing:-0.216px;">4% - 8%</div>
<div class="t" style="left:221.5px;top:377.00px;font-size:10px;color:#fff;letter-spacing:-0.025px;">Manufacturing Cost</div>
<div class="t" style="left:221.5px;top:389.00px;font-size:10px;color:#fff;letter-spacing:-0.170px;">Reductions</div>
<div class="t" style="left:620.3px;top:348.00px;font-size:10px;color:#eee;letter-spacing:-0.299px;">2% - 3%</div>
<div class="t" style="left:502.6px;top:384.00px;font-size:10px;color:#fff;letter-spacing:-0.032px;">Revenue Improvement</div>
<div class="t" style="left:17.4px;top:87.00px;font-size:13.6px;color:#1e1e1e;letter-spacing:0.000px;-webkit-text-stroke:0.45px #1e1e1e;">1</div>
<div class="t" style="left:546.5px;top:53.00px;font-size:13.6px;color:#1e1e1e;letter-spacing:0.000px;-webkit-text-stroke:0.45px #1e1e1e;">2</div>
<div class="t" style="left:72.5px;top:184.00px;font-size:13.6px;color:#1e1e1e;letter-spacing:0.000px;-webkit-text-stroke:0.45px #1e1e1e;">3</div>
<div class="t" style="left:601.7px;top:169.00px;font-size:13.6px;color:#1e1e1e;letter-spacing:0.000px;-webkit-text-stroke:0.45px #1e1e1e;">4</div>
<div class="t" style="left:610.8px;top:257.00px;font-size:13.6px;color:#1e1e1e;letter-spacing:0.000px;-webkit-text-stroke:0.45px #1e1e1e;">5</div>
<div class="t" style="left:446.5px;top:255.00px;font-size:13.6px;color:#1e1e1e;letter-spacing:0.000px;-webkit-text-stroke:0.45px #1e1e1e;">6</div>
</div>
</body></html>
